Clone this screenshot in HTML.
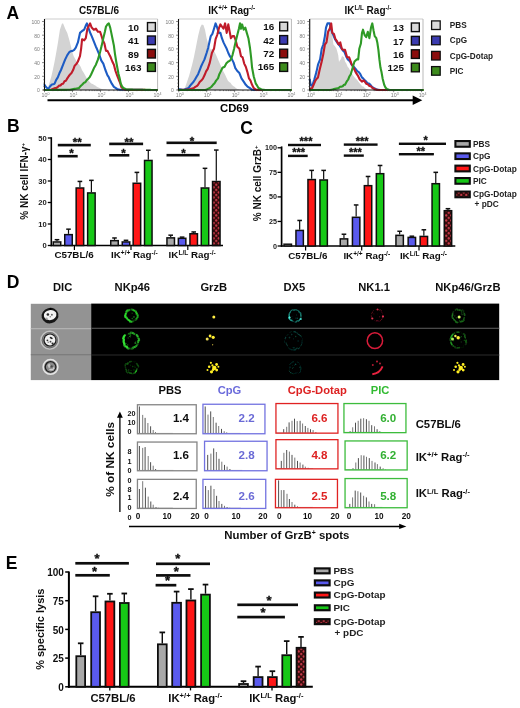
<!DOCTYPE html>
<html><head><meta charset="utf-8"><title>Figure</title>
<style>html,body{margin:0;padding:0;background:#fff;}body{width:520px;height:708px;overflow:hidden;}svg{display:block;}</style>
</head><body>
<svg width="520" height="708" viewBox="0 0 520 708">
<defs>
<pattern id="chk" width="5.0" height="5.1" patternUnits="userSpaceOnUse">
<rect width="5.0" height="5.1" fill="#340909"/>
<circle cx="1.25" cy="1.25" r="1.15" fill="#c63a4a"/>
<circle cx="3.75" cy="3.8" r="1.15" fill="#c63a4a"/>
</pattern>
<filter id="gb" x="0" y="0" width="520" height="708" filterUnits="userSpaceOnUse"><feGaussianBlur stdDeviation="0.4"/></filter>
<filter id="bl" x="-50%" y="-50%" width="200%" height="200%"><feGaussianBlur stdDeviation="0.45"/></filter>
<filter id="bl2" x="-50%" y="-50%" width="200%" height="200%"><feGaussianBlur stdDeviation="0.8"/></filter>
</defs>
<rect width="520" height="708" fill="#fff"/>
<g font-family='"Liberation Sans", sans-serif' filter="url(#gb)">
<text x="6.5" y="19.1" font-size="17.5" text-anchor="start" fill="#000" font-weight="bold" >A</text>
<line x1="44.5" y1="19.0" x2="157.6" y2="19.0" stroke="#cdcdcd" stroke-width="1" />
<line x1="157.6" y1="19.0" x2="157.6" y2="90.0" stroke="#b9b9b9" stroke-width="1" />
<polygon points="44.5,90.0 46.5,89.5 48.2,86.9 49.8,81.72 51.4,76.3 53.0,69.14 54.6,61.5 56.2,52.8 57.8,43.5 59.9,29.7 62.0,23.4 63.1,23.4 65.2,28.7 67.3,32.9 69.4,40.3 71.5,48.8 72.6,52.94 73.7,56.2 75.25,59.09 76.8,61.5 78.0,63.37 79.2,64.4 80.65,66.83 82.1,70.2 83.55,72.57 85.0,75.0 86.45,77.84 87.9,79.8 89.17,81.25 90.43,82.8 91.7,83.7 92.9,84.01 94.1,85.07 95.3,85.55 96.5,86.5 97.8,87.21 99.1,87.83 100.4,88.5 101.85,88.95 103.3,89.4 104.53,89.6 105.77,89.8 107,90" fill="#d3d3d3" stroke="none" stroke-width="0" />
<polyline points="44.5,84.8 46.0,87.0 47.1,88.0 48.2,89.0 50.0,86.5 51.4,84.8 53.0,84.35 54.6,83.7 56.2,79.87 57.8,77.4 59.4,73.3 61.0,70.0 63.1,64.7 65.2,59.4 67.3,55.1 69.4,52.0 71.0,51.14 72.6,50.9 74.2,49.88 75.8,47.7 77.9,42.4 80.0,32.9 82.1,31.0 84.2,29.7 85.8,25.5 86.9,23.4 87.9,26.5 89.5,30.8 90.6,33.82 91.7,36.1 93.8,41.4 95.9,46.7 96.9,48.8 99.1,54.1 101.2,60.4 103.3,63.6 105.4,70.0 107.5,75.3 108.6,76.92 109.7,79.5 111.8,83.7 113.9,86.9 115.5,87.95 117.1,89.0 118.55,89.4 120.0,89.8 121.12,89.81 122.24,89.81 123.36,89.82 124.48,89.82 125.61,89.83 126.73,89.84 127.85,89.84 128.97,89.85 130.09,89.85 131.21,89.86 132.33,89.87 133.45,89.87 134.58,89.88 135.7,89.88 136.82,89.89 137.94,89.9 139.06,89.9 140.18,89.91 141.3,89.92 142.42,89.92 143.55,89.93 144.67,89.93 145.79,89.94 146.91,89.95 148.03,89.95 149.15,89.96 150.27,89.96 151.39,89.97 152.52,89.98 153.64,89.98 154.76,89.99 155.88,89.99 157,90" fill="none" stroke="#1f5cc4" stroke-width="2.1" stroke-linejoin="round" stroke-linecap="round" />
<polyline points="44.5,90.0 45.68,90.0 46.86,90.0 48.04,90.0 49.22,90.0 50.4,90.0 51.63,89.48 52.87,88.97 54.1,88.45 55.33,87.93 56.57,87.83 57.8,86.9 59.12,85.59 60.45,85.46 61.77,83.98 63.1,83.7 64.5,81.24 65.9,80.69 67.3,78.4 68.7,76.23 70.1,74.47 71.5,73.1 73.1,70.08 74.7,65.7 76.3,64.12 77.9,61.5 80.0,56.2 81.1,48.8 82.1,39.2 84.2,40.3 85.8,38.2 87.4,28.7 89.0,25.5 90.1,23.4 91.7,27.6 93.8,29.7 95.9,28.7 98.0,31.8 100.1,31.8 101.2,35.0 102.8,40.3 104.4,43.5 106.0,50.9 107.5,50.9 109.1,54.1 110.7,57.3 112.3,61.5 113.9,64.7 115.5,71.0 117.1,75.3 118.7,79.5 120.0,82.5 121.3,86.9 123.4,89.0 124.7,89.4 126.0,89.8 127.11,89.81 128.21,89.81 129.32,89.82 130.43,89.83 131.54,89.84 132.64,89.84 133.75,89.85 134.86,89.86 135.96,89.86 137.07,89.87 138.18,89.88 139.29,89.89 140.39,89.89 141.5,89.9 142.61,89.91 143.71,89.91 144.82,89.92 145.93,89.93 147.04,89.94 148.14,89.94 149.25,89.95 150.36,89.96 151.46,89.96 152.57,89.97 153.68,89.98 154.79,89.99 155.89,89.99 157,90" fill="none" stroke="#c01a2a" stroke-width="2.1" stroke-linejoin="round" stroke-linecap="round" />
<polyline points="44.5,90.0 45.61,89.99 46.72,89.98 47.83,89.97 48.93,89.97 50.04,89.96 51.15,89.95 52.26,89.94 53.37,89.93 54.48,89.92 55.59,89.91 56.7,89.9 57.8,89.9 58.91,89.89 60.02,89.88 61.13,89.87 62.24,89.86 63.35,89.85 64.46,89.84 65.57,89.83 66.67,89.83 67.78,89.82 68.89,89.81 70.0,89.8 71.12,89.58 72.25,89.35 73.38,89.12 74.5,88.9 75.62,88.67 76.75,88.45 77.88,88.22 79.0,88.0 80.55,86.11 82.1,84.8 84.0,82.7 85.2,82.3 86.4,80.6 87.95,79.05 89.5,77.4 91.1,74.45 92.7,71.0 94.3,67.44 95.9,64.7 98.0,59.4 100.1,52.0 101.7,45.6 103.3,38.2 104.9,31.8 106.0,26.5 107.5,24.4 108.8,23.4 110.2,27.6 111.3,32.9 112.8,40.3 113.9,45.6 115.0,54.1 116.2,61.5 117.3,67.5 118.5,74.0 119.7,78.4 120.8,83.7 122.1,86.47 123.4,88.0 125.0,88.8 126.6,89.6 127.73,89.61 128.85,89.63 129.98,89.64 131.1,89.66 132.23,89.67 133.36,89.69 134.48,89.7 135.61,89.72 136.73,89.73 137.86,89.75 138.99,89.76 140.11,89.78 141.24,89.79 142.36,89.81 143.49,89.82 144.61,89.84 145.74,89.85 146.87,89.87 147.99,89.88 149.12,89.9 150.24,89.91 151.37,89.93 152.5,89.94 153.62,89.96 154.75,89.97 155.87,89.99 157,90" fill="none" stroke="#2e9a26" stroke-width="2.1" stroke-linejoin="round" stroke-linecap="round" />
<line x1="44.5" y1="19.0" x2="44.5" y2="90.5" stroke="#111" stroke-width="1.1" />
<line x1="44.0" y1="90.0" x2="157.6" y2="90.0" stroke="#111" stroke-width="1.1" />
<line x1="42.1" y1="90.0" x2="44.5" y2="90.0" stroke="#333" stroke-width="0.6" />
<line x1="43.3" y1="86.575" x2="44.5" y2="86.575" stroke="#333" stroke-width="0.6" />
<line x1="43.3" y1="83.15" x2="44.5" y2="83.15" stroke="#333" stroke-width="0.6" />
<line x1="43.3" y1="79.725" x2="44.5" y2="79.725" stroke="#333" stroke-width="0.6" />
<line x1="42.1" y1="76.3" x2="44.5" y2="76.3" stroke="#333" stroke-width="0.6" />
<line x1="43.3" y1="72.875" x2="44.5" y2="72.875" stroke="#333" stroke-width="0.6" />
<line x1="43.3" y1="69.45" x2="44.5" y2="69.45" stroke="#333" stroke-width="0.6" />
<line x1="43.3" y1="66.025" x2="44.5" y2="66.025" stroke="#333" stroke-width="0.6" />
<line x1="42.1" y1="62.6" x2="44.5" y2="62.6" stroke="#333" stroke-width="0.6" />
<line x1="43.3" y1="59.175" x2="44.5" y2="59.175" stroke="#333" stroke-width="0.6" />
<line x1="43.3" y1="55.75" x2="44.5" y2="55.75" stroke="#333" stroke-width="0.6" />
<line x1="43.3" y1="52.325" x2="44.5" y2="52.325" stroke="#333" stroke-width="0.6" />
<line x1="42.1" y1="48.9" x2="44.5" y2="48.9" stroke="#333" stroke-width="0.6" />
<line x1="43.3" y1="45.475" x2="44.5" y2="45.475" stroke="#333" stroke-width="0.6" />
<line x1="43.3" y1="42.05" x2="44.5" y2="42.05" stroke="#333" stroke-width="0.6" />
<line x1="43.3" y1="38.625" x2="44.5" y2="38.625" stroke="#333" stroke-width="0.6" />
<line x1="42.1" y1="35.2" x2="44.5" y2="35.2" stroke="#333" stroke-width="0.6" />
<line x1="43.3" y1="31.775" x2="44.5" y2="31.775" stroke="#333" stroke-width="0.6" />
<line x1="43.3" y1="28.35" x2="44.5" y2="28.35" stroke="#333" stroke-width="0.6" />
<line x1="43.3" y1="24.924999999999997" x2="44.5" y2="24.924999999999997" stroke="#333" stroke-width="0.6" />
<line x1="42.1" y1="21.5" x2="44.5" y2="21.5" stroke="#333" stroke-width="0.6" />
<text x="39.9" y="92.3" font-size="5.0" text-anchor="end" fill="#7a7a7a" font-weight="normal" >0</text>
<text x="39.9" y="78.6" font-size="5.0" text-anchor="end" fill="#7a7a7a" font-weight="normal" >20</text>
<text x="39.9" y="64.9" font-size="5.0" text-anchor="end" fill="#7a7a7a" font-weight="normal" >40</text>
<text x="39.9" y="51.199999999999996" font-size="5.0" text-anchor="end" fill="#7a7a7a" font-weight="normal" >60</text>
<text x="39.9" y="37.5" font-size="5.0" text-anchor="end" fill="#7a7a7a" font-weight="normal" >80</text>
<text x="39.9" y="23.8" font-size="5.0" text-anchor="end" fill="#7a7a7a" font-weight="normal" >100</text>
<line x1="44.5" y1="90.0" x2="44.5" y2="92.2" stroke="#333" stroke-width="0.6" />
<line x1="52.928839878591475" y1="90.0" x2="52.928839878591475" y2="91.1" stroke="#333" stroke-width="0.6" />
<line x1="57.859395132150546" y1="90.0" x2="57.859395132150546" y2="91.1" stroke="#333" stroke-width="0.6" />
<line x1="61.35767975718295" y1="90.0" x2="61.35767975718295" y2="91.1" stroke="#333" stroke-width="0.6" />
<line x1="64.07116012140852" y1="90.0" x2="64.07116012140852" y2="91.1" stroke="#333" stroke-width="0.6" />
<line x1="66.28823501074203" y1="90.0" x2="66.28823501074203" y2="91.1" stroke="#333" stroke-width="0.6" />
<line x1="68.1627451203992" y1="90.0" x2="68.1627451203992" y2="91.1" stroke="#333" stroke-width="0.6" />
<line x1="69.78651963577443" y1="90.0" x2="69.78651963577443" y2="91.1" stroke="#333" stroke-width="0.6" />
<line x1="71.21879026430109" y1="90.0" x2="71.21879026430109" y2="91.1" stroke="#333" stroke-width="0.6" />
<line x1="72.5" y1="90.0" x2="72.5" y2="92.2" stroke="#333" stroke-width="0.6" />
<line x1="80.92883987859148" y1="90.0" x2="80.92883987859148" y2="91.1" stroke="#333" stroke-width="0.6" />
<line x1="85.85939513215055" y1="90.0" x2="85.85939513215055" y2="91.1" stroke="#333" stroke-width="0.6" />
<line x1="89.35767975718295" y1="90.0" x2="89.35767975718295" y2="91.1" stroke="#333" stroke-width="0.6" />
<line x1="92.07116012140852" y1="90.0" x2="92.07116012140852" y2="91.1" stroke="#333" stroke-width="0.6" />
<line x1="94.28823501074203" y1="90.0" x2="94.28823501074203" y2="91.1" stroke="#333" stroke-width="0.6" />
<line x1="96.1627451203992" y1="90.0" x2="96.1627451203992" y2="91.1" stroke="#333" stroke-width="0.6" />
<line x1="97.78651963577443" y1="90.0" x2="97.78651963577443" y2="91.1" stroke="#333" stroke-width="0.6" />
<line x1="99.21879026430109" y1="90.0" x2="99.21879026430109" y2="91.1" stroke="#333" stroke-width="0.6" />
<line x1="100.5" y1="90.0" x2="100.5" y2="92.2" stroke="#333" stroke-width="0.6" />
<line x1="108.92883987859148" y1="90.0" x2="108.92883987859148" y2="91.1" stroke="#333" stroke-width="0.6" />
<line x1="113.85939513215055" y1="90.0" x2="113.85939513215055" y2="91.1" stroke="#333" stroke-width="0.6" />
<line x1="117.35767975718295" y1="90.0" x2="117.35767975718295" y2="91.1" stroke="#333" stroke-width="0.6" />
<line x1="120.07116012140852" y1="90.0" x2="120.07116012140852" y2="91.1" stroke="#333" stroke-width="0.6" />
<line x1="122.28823501074203" y1="90.0" x2="122.28823501074203" y2="91.1" stroke="#333" stroke-width="0.6" />
<line x1="124.1627451203992" y1="90.0" x2="124.1627451203992" y2="91.1" stroke="#333" stroke-width="0.6" />
<line x1="125.78651963577443" y1="90.0" x2="125.78651963577443" y2="91.1" stroke="#333" stroke-width="0.6" />
<line x1="127.21879026430109" y1="90.0" x2="127.21879026430109" y2="91.1" stroke="#333" stroke-width="0.6" />
<line x1="128.5" y1="90.0" x2="128.5" y2="92.2" stroke="#333" stroke-width="0.6" />
<line x1="136.92883987859148" y1="90.0" x2="136.92883987859148" y2="91.1" stroke="#333" stroke-width="0.6" />
<line x1="141.85939513215055" y1="90.0" x2="141.85939513215055" y2="91.1" stroke="#333" stroke-width="0.6" />
<line x1="145.35767975718295" y1="90.0" x2="145.35767975718295" y2="91.1" stroke="#333" stroke-width="0.6" />
<line x1="148.07116012140852" y1="90.0" x2="148.07116012140852" y2="91.1" stroke="#333" stroke-width="0.6" />
<line x1="150.28823501074203" y1="90.0" x2="150.28823501074203" y2="91.1" stroke="#333" stroke-width="0.6" />
<line x1="152.1627451203992" y1="90.0" x2="152.1627451203992" y2="91.1" stroke="#333" stroke-width="0.6" />
<line x1="153.78651963577443" y1="90.0" x2="153.78651963577443" y2="91.1" stroke="#333" stroke-width="0.6" />
<line x1="155.2187902643011" y1="90.0" x2="155.2187902643011" y2="91.1" stroke="#333" stroke-width="0.6" />
<line x1="156.5" y1="90.0" x2="156.5" y2="92.2" stroke="#333" stroke-width="0.6" />
<text x="45.5" y="96.6" font-size="5.3" text-anchor="middle" fill="#7a7a7a" font-weight="normal" >10<tspan font-size="3.6" dy="-1.8">0</tspan></text>
<text x="73.5" y="96.6" font-size="5.3" text-anchor="middle" fill="#7a7a7a" font-weight="normal" >10<tspan font-size="3.6" dy="-1.8">1</tspan></text>
<text x="101.5" y="96.6" font-size="5.3" text-anchor="middle" fill="#7a7a7a" font-weight="normal" >10<tspan font-size="3.6" dy="-1.8">2</tspan></text>
<text x="129.5" y="96.6" font-size="5.3" text-anchor="middle" fill="#7a7a7a" font-weight="normal" >10<tspan font-size="3.6" dy="-1.8">3</tspan></text>
<text x="157.5" y="96.6" font-size="5.3" text-anchor="middle" fill="#7a7a7a" font-weight="normal" >10<tspan font-size="3.6" dy="-1.8">4</tspan></text>
<text x="139.1" y="31.0" font-size="9.9" text-anchor="end" fill="#111" font-weight="bold" >10</text>
<rect x="147.5" y="22.599999999999998" width="7.9" height="8.6" fill="#d9d9d9" stroke="#111" stroke-width="1.4" />
<text x="139.1" y="44.4" font-size="9.9" text-anchor="end" fill="#111" font-weight="bold" >41</text>
<rect x="147.5" y="36.0" width="7.9" height="8.6" fill="#3b3bb0" stroke="#111" stroke-width="1.4" />
<text x="139.1" y="57.8" font-size="9.9" text-anchor="end" fill="#111" font-weight="bold" >89</text>
<rect x="147.5" y="49.400000000000006" width="7.9" height="8.6" fill="#8b0a0a" stroke="#111" stroke-width="1.4" />
<text x="141.6" y="70.8" font-size="9.9" text-anchor="end" fill="#111" font-weight="bold" >163</text>
<rect x="147.5" y="62.800000000000004" width="7.9" height="8.6" fill="#3d8b1e" stroke="#111" stroke-width="1.4" />
<line x1="178.5" y1="19.0" x2="291.4" y2="19.0" stroke="#cdcdcd" stroke-width="1" />
<line x1="291.4" y1="19.0" x2="291.4" y2="90.0" stroke="#b9b9b9" stroke-width="1" />
<polygon points="178.8,90.0 180.4,89.9 182.0,89.8 183.2,89.4 184.4,89.0 185.95,84.99 187.5,80.6 189.1,75.77 190.7,70.0 192.3,64.04 193.9,57.3 196.0,46.7 198.1,36.1 200.2,27.6 201.8,24.4 203.4,25.0 205.0,29.7 206.6,38.2 208.7,45.6 210.8,49.8 213.0,48.8 215.1,53.0 216.65,56.3 218.2,60.0 219.63,63.19 221.07,66.33 222.5,70.0 223.82,72.3 225.15,74.87 226.48,77.75 227.8,80.6 229.12,82.03 230.45,82.75 231.78,84.75 233.1,85.9 234.5,86.77 235.9,87.97 237.3,89.0 238.53,89.33 239.77,89.67 241,90" fill="#d3d3d3" stroke="none" stroke-width="0" />
<polyline points="178.8,89.2 179.93,89.4 181.05,89.6 182.18,89.8 183.3,90.0 184.62,89.5 185.95,89.0 187.28,88.5 188.6,88.0 190.2,85.58 191.8,83.7 193.4,82.05 195.0,79.5 196.55,76.82 198.1,74.2 200.2,68.9 201.3,65.99 202.4,63.6 204.5,59.4 206.6,53.0 208.2,47.7 209.8,40.3 210.8,36.1 212.4,33.9 214.0,28.7 215.6,23.4 217.2,27.6 218.8,32.9 220.4,32.9 221.9,38.2 223.5,42.4 225.1,45.6 226.7,48.8 228.3,53.0 229.9,56.2 232.0,59.4 233.6,62.6 235.2,67.8 237.3,71.0 239.4,73.1 241.5,78.4 243.7,81.6 245.8,84.8 247.9,86.9 250.0,88.2 252.1,89.8 253.55,89.9 255.0,90.0 256.12,90.0 257.25,90.0 258.38,90.0 259.5,90.0 260.62,90.0 261.75,90.0 262.88,90.0 264.0,90.0 265.12,90.0 266.25,90.0 267.38,90.0 268.5,90.0 269.62,90.0 270.75,90.0 271.88,90.0 273.0,90.0 274.12,90.0 275.25,90.0 276.38,90.0 277.5,90.0 278.62,90.0 279.75,90.0 280.88,90.0 282.0,90.0 283.12,90.0 284.25,90.0 285.38,90.0 286.5,90.0 287.62,90.0 288.75,90.0 289.88,90.0 291,90" fill="none" stroke="#1f5cc4" stroke-width="2.1" stroke-linejoin="round" stroke-linecap="round" />
<polyline points="178.8,90.0 180.03,89.95 181.25,89.9 182.47,89.85 183.7,89.8 184.93,89.75 186.15,89.7 187.38,89.65 188.6,89.6 189.93,89.2 191.25,88.8 192.57,88.4 193.9,88.0 195.3,86.91 196.7,86.15 198.1,84.8 199.7,82.08 201.3,80.6 202.9,78.62 204.5,75.3 206.1,71.43 207.7,68.9 209.8,62.6 211.9,53.0 214.0,48.8 215.6,39.2 217.2,35.0 218.8,28.7 220.4,24.4 221.9,26.5 223.5,28.7 225.1,23.4 226.7,32.9 228.3,24.4 229.9,32.9 230.9,38.2 232.5,36.1 234.1,36.1 235.7,40.3 237.3,46.7 239.4,48.8 241.0,56.2 242.6,57.3 244.2,63.6 245.8,66.8 247.4,72.1 249.0,78.4 250.5,80.6 252.1,84.8 253.7,88.0 255.8,89.6 258.0,90.0 259.14,90.0 260.28,90.0 261.41,90.0 262.55,90.0 263.69,90.0 264.83,90.0 265.97,90.0 267.1,90.0 268.24,90.0 269.38,90.0 270.52,90.0 271.66,90.0 272.79,90.0 273.93,90.0 275.07,90.0 276.21,90.0 277.34,90.0 278.48,90.0 279.62,90.0 280.76,90.0 281.9,90.0 283.03,90.0 284.17,90.0 285.31,90.0 286.45,90.0 287.59,90.0 288.72,90.0 289.86,90.0 291,90" fill="none" stroke="#c01a2a" stroke-width="2.1" stroke-linejoin="round" stroke-linecap="round" />
<polyline points="178.8,90.0 179.95,90.0 181.1,90.0 182.26,90.0 183.41,90.0 184.56,90.0 185.71,90.0 186.87,90.0 188.02,90.0 189.17,90.0 190.32,90.0 191.48,90.0 192.63,90.0 193.78,90.0 194.93,90.0 196.09,90.0 197.24,90.0 198.39,90.0 199.54,90.0 200.7,90.0 201.85,90.0 203.0,90.0 204.25,90.0 205.5,90.0 206.93,89.33 208.37,88.67 209.8,88.0 211.4,86.75 213.0,84.8 214.55,83.18 216.1,80.6 218.0,78.4 219.2,74.58 220.4,72.1 222.5,67.8 224.6,66.8 226.2,63.6 228.3,61.5 229.65,60.85 231.0,59.4 232.5,55.1 234.1,48.8 235.7,41.4 237.3,35.0 238.9,28.7 240.0,23.4 241.0,28.7 242.1,24.4 243.7,29.7 245.3,27.6 246.8,32.9 248.4,38.2 250.0,48.0 251.1,57.3 252.1,67.8 253.7,76.3 255.8,83.7 257.15,85.66 258.5,88.0 260.1,88.8 261.7,89.6 262.8,89.73 263.9,89.87 265.0,90.0 266.13,90.0 267.26,90.0 268.39,90.0 269.52,90.0 270.65,90.0 271.78,90.0 272.91,90.0 274.04,90.0 275.17,90.0 276.3,90.0 277.43,90.0 278.57,90.0 279.7,90.0 280.83,90.0 281.96,90.0 283.09,90.0 284.22,90.0 285.35,90.0 286.48,90.0 287.61,90.0 288.74,90.0 289.87,90.0 291,90" fill="none" stroke="#2e9a26" stroke-width="2.1" stroke-linejoin="round" stroke-linecap="round" />
<line x1="178.5" y1="19.0" x2="178.5" y2="90.5" stroke="#111" stroke-width="1.1" />
<line x1="178.0" y1="90.0" x2="291.4" y2="90.0" stroke="#111" stroke-width="1.1" />
<line x1="176.1" y1="90.0" x2="178.5" y2="90.0" stroke="#333" stroke-width="0.6" />
<line x1="177.3" y1="86.575" x2="178.5" y2="86.575" stroke="#333" stroke-width="0.6" />
<line x1="177.3" y1="83.15" x2="178.5" y2="83.15" stroke="#333" stroke-width="0.6" />
<line x1="177.3" y1="79.725" x2="178.5" y2="79.725" stroke="#333" stroke-width="0.6" />
<line x1="176.1" y1="76.3" x2="178.5" y2="76.3" stroke="#333" stroke-width="0.6" />
<line x1="177.3" y1="72.875" x2="178.5" y2="72.875" stroke="#333" stroke-width="0.6" />
<line x1="177.3" y1="69.45" x2="178.5" y2="69.45" stroke="#333" stroke-width="0.6" />
<line x1="177.3" y1="66.025" x2="178.5" y2="66.025" stroke="#333" stroke-width="0.6" />
<line x1="176.1" y1="62.6" x2="178.5" y2="62.6" stroke="#333" stroke-width="0.6" />
<line x1="177.3" y1="59.175" x2="178.5" y2="59.175" stroke="#333" stroke-width="0.6" />
<line x1="177.3" y1="55.75" x2="178.5" y2="55.75" stroke="#333" stroke-width="0.6" />
<line x1="177.3" y1="52.325" x2="178.5" y2="52.325" stroke="#333" stroke-width="0.6" />
<line x1="176.1" y1="48.9" x2="178.5" y2="48.9" stroke="#333" stroke-width="0.6" />
<line x1="177.3" y1="45.475" x2="178.5" y2="45.475" stroke="#333" stroke-width="0.6" />
<line x1="177.3" y1="42.05" x2="178.5" y2="42.05" stroke="#333" stroke-width="0.6" />
<line x1="177.3" y1="38.625" x2="178.5" y2="38.625" stroke="#333" stroke-width="0.6" />
<line x1="176.1" y1="35.2" x2="178.5" y2="35.2" stroke="#333" stroke-width="0.6" />
<line x1="177.3" y1="31.775" x2="178.5" y2="31.775" stroke="#333" stroke-width="0.6" />
<line x1="177.3" y1="28.35" x2="178.5" y2="28.35" stroke="#333" stroke-width="0.6" />
<line x1="177.3" y1="24.924999999999997" x2="178.5" y2="24.924999999999997" stroke="#333" stroke-width="0.6" />
<line x1="176.1" y1="21.5" x2="178.5" y2="21.5" stroke="#333" stroke-width="0.6" />
<text x="173.9" y="92.3" font-size="5.0" text-anchor="end" fill="#7a7a7a" font-weight="normal" >0</text>
<text x="173.9" y="78.6" font-size="5.0" text-anchor="end" fill="#7a7a7a" font-weight="normal" >20</text>
<text x="173.9" y="64.9" font-size="5.0" text-anchor="end" fill="#7a7a7a" font-weight="normal" >40</text>
<text x="173.9" y="51.199999999999996" font-size="5.0" text-anchor="end" fill="#7a7a7a" font-weight="normal" >60</text>
<text x="173.9" y="37.5" font-size="5.0" text-anchor="end" fill="#7a7a7a" font-weight="normal" >80</text>
<text x="173.9" y="23.8" font-size="5.0" text-anchor="end" fill="#7a7a7a" font-weight="normal" >100</text>
<line x1="178.8" y1="90.0" x2="178.8" y2="92.2" stroke="#333" stroke-width="0.6" />
<line x1="187.1987368790251" y1="90.0" x2="187.1987368790251" y2="91.1" stroke="#333" stroke-width="0.6" />
<line x1="192.1116830066786" y1="90.0" x2="192.1116830066786" y2="91.1" stroke="#333" stroke-width="0.6" />
<line x1="195.59747375805017" y1="90.0" x2="195.59747375805017" y2="91.1" stroke="#333" stroke-width="0.6" />
<line x1="198.30126312097494" y1="90.0" x2="198.30126312097494" y2="91.1" stroke="#333" stroke-width="0.6" />
<line x1="200.51041988570367" y1="90.0" x2="200.51041988570367" y2="91.1" stroke="#333" stroke-width="0.6" />
<line x1="202.37823531639776" y1="90.0" x2="202.37823531639776" y2="91.1" stroke="#333" stroke-width="0.6" />
<line x1="203.99621063707522" y1="90.0" x2="203.99621063707522" y2="91.1" stroke="#333" stroke-width="0.6" />
<line x1="205.42336601335717" y1="90.0" x2="205.42336601335717" y2="91.1" stroke="#333" stroke-width="0.6" />
<line x1="206.70000000000002" y1="90.0" x2="206.70000000000002" y2="92.2" stroke="#333" stroke-width="0.6" />
<line x1="215.0987368790251" y1="90.0" x2="215.0987368790251" y2="91.1" stroke="#333" stroke-width="0.6" />
<line x1="220.0116830066786" y1="90.0" x2="220.0116830066786" y2="91.1" stroke="#333" stroke-width="0.6" />
<line x1="223.49747375805015" y1="90.0" x2="223.49747375805015" y2="91.1" stroke="#333" stroke-width="0.6" />
<line x1="226.20126312097494" y1="90.0" x2="226.20126312097494" y2="91.1" stroke="#333" stroke-width="0.6" />
<line x1="228.41041988570367" y1="90.0" x2="228.41041988570367" y2="91.1" stroke="#333" stroke-width="0.6" />
<line x1="230.27823531639777" y1="90.0" x2="230.27823531639777" y2="91.1" stroke="#333" stroke-width="0.6" />
<line x1="231.89621063707523" y1="90.0" x2="231.89621063707523" y2="91.1" stroke="#333" stroke-width="0.6" />
<line x1="233.32336601335717" y1="90.0" x2="233.32336601335717" y2="91.1" stroke="#333" stroke-width="0.6" />
<line x1="234.60000000000002" y1="90.0" x2="234.60000000000002" y2="92.2" stroke="#333" stroke-width="0.6" />
<line x1="242.9987368790251" y1="90.0" x2="242.9987368790251" y2="91.1" stroke="#333" stroke-width="0.6" />
<line x1="247.9116830066786" y1="90.0" x2="247.9116830066786" y2="91.1" stroke="#333" stroke-width="0.6" />
<line x1="251.39747375805018" y1="90.0" x2="251.39747375805018" y2="91.1" stroke="#333" stroke-width="0.6" />
<line x1="254.10126312097492" y1="90.0" x2="254.10126312097492" y2="91.1" stroke="#333" stroke-width="0.6" />
<line x1="256.31041988570365" y1="90.0" x2="256.31041988570365" y2="91.1" stroke="#333" stroke-width="0.6" />
<line x1="258.1782353163978" y1="90.0" x2="258.1782353163978" y2="91.1" stroke="#333" stroke-width="0.6" />
<line x1="259.7962106370752" y1="90.0" x2="259.7962106370752" y2="91.1" stroke="#333" stroke-width="0.6" />
<line x1="261.2233660133572" y1="90.0" x2="261.2233660133572" y2="91.1" stroke="#333" stroke-width="0.6" />
<line x1="262.5" y1="90.0" x2="262.5" y2="92.2" stroke="#333" stroke-width="0.6" />
<line x1="270.8987368790251" y1="90.0" x2="270.8987368790251" y2="91.1" stroke="#333" stroke-width="0.6" />
<line x1="275.8116830066786" y1="90.0" x2="275.8116830066786" y2="91.1" stroke="#333" stroke-width="0.6" />
<line x1="279.29747375805016" y1="90.0" x2="279.29747375805016" y2="91.1" stroke="#333" stroke-width="0.6" />
<line x1="282.00126312097495" y1="90.0" x2="282.00126312097495" y2="91.1" stroke="#333" stroke-width="0.6" />
<line x1="284.2104198857037" y1="90.0" x2="284.2104198857037" y2="91.1" stroke="#333" stroke-width="0.6" />
<line x1="286.0782353163978" y1="90.0" x2="286.0782353163978" y2="91.1" stroke="#333" stroke-width="0.6" />
<line x1="287.69621063707524" y1="90.0" x2="287.69621063707524" y2="91.1" stroke="#333" stroke-width="0.6" />
<line x1="289.12336601335716" y1="90.0" x2="289.12336601335716" y2="91.1" stroke="#333" stroke-width="0.6" />
<line x1="290.4" y1="90.0" x2="290.4" y2="92.2" stroke="#333" stroke-width="0.6" />
<text x="179.8" y="96.6" font-size="5.3" text-anchor="middle" fill="#7a7a7a" font-weight="normal" >10<tspan font-size="3.6" dy="-1.8">0</tspan></text>
<text x="207.70000000000002" y="96.6" font-size="5.3" text-anchor="middle" fill="#7a7a7a" font-weight="normal" >10<tspan font-size="3.6" dy="-1.8">1</tspan></text>
<text x="235.60000000000002" y="96.6" font-size="5.3" text-anchor="middle" fill="#7a7a7a" font-weight="normal" >10<tspan font-size="3.6" dy="-1.8">2</tspan></text>
<text x="263.5" y="96.6" font-size="5.3" text-anchor="middle" fill="#7a7a7a" font-weight="normal" >10<tspan font-size="3.6" dy="-1.8">3</tspan></text>
<text x="291.4" y="96.6" font-size="5.3" text-anchor="middle" fill="#7a7a7a" font-weight="normal" >10<tspan font-size="3.6" dy="-1.8">4</tspan></text>
<text x="274.3" y="30.3" font-size="9.9" text-anchor="end" fill="#111" font-weight="bold" >16</text>
<rect x="279.7" y="22.2" width="7.9" height="8.6" fill="#d9d9d9" stroke="#111" stroke-width="1.4" />
<text x="274.3" y="43.6" font-size="9.9" text-anchor="end" fill="#111" font-weight="bold" >42</text>
<rect x="279.7" y="35.6" width="7.9" height="8.6" fill="#3b3bb0" stroke="#111" stroke-width="1.4" />
<text x="274.3" y="57.0" font-size="9.9" text-anchor="end" fill="#111" font-weight="bold" >72</text>
<rect x="279.7" y="49.2" width="7.9" height="8.6" fill="#8b0a0a" stroke="#111" stroke-width="1.4" />
<text x="274.3" y="70.0" font-size="9.9" text-anchor="end" fill="#111" font-weight="bold" >165</text>
<rect x="279.7" y="62.800000000000004" width="7.9" height="8.6" fill="#3d8b1e" stroke="#111" stroke-width="1.4" />
<line x1="309.7" y1="19.0" x2="423.0" y2="19.0" stroke="#cdcdcd" stroke-width="1" />
<line x1="423.0" y1="19.0" x2="423.0" y2="90.0" stroke="#b9b9b9" stroke-width="1" />
<polygon points="310.0,90.0 311.1,89.0 312.3,86.58 313.5,84.0 315.4,79.0 316.7,74.51 318.0,71.0 319.6,65.0 321.7,55.0 323.3,47.0 324.9,39.0 326.5,33.0 328.1,29.0 330.2,27.6 331.8,31.0 333.4,44.5 334.95,46.2 336.5,48.8 338.2,55.0 339.0,62.0 340.0,60.0 340.8,59.4 342.0,56.0 344.0,57.3 345.0,61.5 346.32,63.56 347.65,66.71 348.98,68.32 350.3,71.0 351.62,73.11 352.95,75.13 354.28,76.99 355.6,78.4 356.93,79.84 358.25,81.45 359.57,83.22 360.9,84.8 362.22,86.13 363.55,86.51 364.88,87.95 366.2,89.0 367.6,89.5 369,90" fill="#d3d3d3" stroke="none" stroke-width="0" />
<polyline points="309.8,79.5 310.6,84.8 312.2,85.9 314.3,79.5 316.4,72.1 318.0,64.7 320.1,59.4 321.7,48.8 323.3,44.5 324.9,36.1 326.0,27.6 327.5,23.4 329.7,23.4 331.2,29.7 332.8,33.9 335.0,39.2 337.1,42.4 338.4,44.35 339.7,45.6 341.8,48.8 343.15,50.82 344.5,52.0 346.6,57.3 347.8,59.35 349.0,60.4 350.25,61.8 351.5,64.5 353.5,66.5 355.6,68.9 357.2,71.12 358.8,72.1 360.35,74.18 361.9,77.4 363.33,78.58 364.77,80.36 366.2,81.6 367.6,83.25 369.0,83.51 370.4,84.8 372.0,86.99 373.6,88.0 375.2,88.8 376.8,89.6 378.4,89.8 380.0,90.0 381.1,90.0 382.21,90.0 383.31,90.0 384.41,90.0 385.51,90.0 386.62,90.0 387.72,90.0 388.82,90.0 389.92,90.0 391.03,90.0 392.13,90.0 393.23,90.0 394.33,90.0 395.44,90.0 396.54,90.0 397.64,90.0 398.74,90.0 399.85,90.0 400.95,90.0 402.05,90.0 403.15,90.0 404.26,90.0 405.36,90.0 406.46,90.0 407.56,90.0 408.67,90.0 409.77,90.0 410.87,90.0 411.97,90.0 413.08,90.0 414.18,90.0 415.28,90.0 416.38,90.0 417.49,90.0 418.59,90.0 419.69,90.0 420.79,90.0 421.9,90.0 423,90" fill="none" stroke="#1f5cc4" stroke-width="2.1" stroke-linejoin="round" stroke-linecap="round" />
<polyline points="310.1,89.0 312.2,88.0 313.8,84.36 315.4,80.6 316.7,78.74 318.0,77.4 319.6,70.0 321.7,61.5 323.3,54.1 324.9,44.5 326.5,42.4 328.1,31.8 329.7,28.7 331.2,23.4 332.3,32.9 333.9,33.9 335.5,39.2 337.1,41.4 338.7,44.5 340.3,42.4 341.8,48.8 343.4,49.8 345.0,49.8 347.1,57.3 349.2,57.3 351.4,63.6 353.5,67.8 355.6,72.1 357.7,75.3 359.8,79.5 361.9,81.6 363.0,80.84 364.1,80.6 366.2,83.7 367.8,84.35 369.4,85.9 370.95,86.36 372.5,88.0 374.1,88.8 375.7,89.6 376.85,89.8 378.0,90.0 379.12,90.0 380.25,90.0 381.38,90.0 382.5,90.0 383.62,90.0 384.75,90.0 385.88,90.0 387.0,90.0 388.12,90.0 389.25,90.0 390.38,90.0 391.5,90.0 392.62,90.0 393.75,90.0 394.88,90.0 396.0,90.0 397.12,90.0 398.25,90.0 399.38,90.0 400.5,90.0 401.62,90.0 402.75,90.0 403.88,90.0 405.0,90.0 406.12,90.0 407.25,90.0 408.38,90.0 409.5,90.0 410.62,90.0 411.75,90.0 412.88,90.0 414.0,90.0 415.12,90.0 416.25,90.0 417.38,90.0 418.5,90.0 419.62,90.0 420.75,90.0 421.88,90.0 423,90" fill="none" stroke="#c01a2a" stroke-width="2.1" stroke-linejoin="round" stroke-linecap="round" />
<polyline points="310.0,90.0 311.12,90.0 312.24,90.0 313.37,90.0 314.49,90.0 315.61,90.0 316.73,90.0 317.86,90.0 318.98,90.0 320.1,90.0 321.22,90.0 322.34,90.0 323.47,90.0 324.59,90.0 325.71,90.0 326.83,90.0 327.96,90.0 329.08,90.0 330.2,90.0 331.41,89.71 332.63,89.43 333.84,89.14 335.06,88.86 336.27,88.57 337.49,88.29 338.7,88.0 340.02,86.71 341.35,86.66 342.68,86.3 344.0,84.8 345.0,84.8 346.6,81.68 348.2,79.5 349.5,76.22 350.8,74.2 352.9,66.8 354.5,61.5 356.7,59.4 358.2,59.4 359.3,48.8 360.9,43.5 362.0,32.9 363.0,29.7 364.6,35.0 366.2,37.1 367.8,31.8 369.4,38.2 371.0,27.6 372.3,23.4 373.6,30.8 374.7,36.1 376.3,38.2 377.3,42.4 378.4,49.8 379.4,59.4 380.5,67.8 381.5,72.0 382.6,78.4 384.2,84.8 385.5,87.58 386.8,89.0 388.15,89.5 389.5,90.0 390.62,90.0 391.73,90.0 392.85,90.0 393.97,90.0 395.08,90.0 396.2,90.0 397.32,90.0 398.43,90.0 399.55,90.0 400.67,90.0 401.78,90.0 402.9,90.0 404.02,90.0 405.13,90.0 406.25,90.0 407.37,90.0 408.48,90.0 409.6,90.0 410.72,90.0 411.83,90.0 412.95,90.0 414.07,90.0 415.18,90.0 416.3,90.0 417.42,90.0 418.53,90.0 419.65,90.0 420.77,90.0 421.88,90.0 423,90" fill="none" stroke="#2e9a26" stroke-width="2.1" stroke-linejoin="round" stroke-linecap="round" />
<line x1="309.7" y1="19.0" x2="309.7" y2="90.5" stroke="#111" stroke-width="1.1" />
<line x1="309.2" y1="90.0" x2="423.0" y2="90.0" stroke="#111" stroke-width="1.1" />
<line x1="307.3" y1="90.0" x2="309.7" y2="90.0" stroke="#333" stroke-width="0.6" />
<line x1="308.5" y1="86.575" x2="309.7" y2="86.575" stroke="#333" stroke-width="0.6" />
<line x1="308.5" y1="83.15" x2="309.7" y2="83.15" stroke="#333" stroke-width="0.6" />
<line x1="308.5" y1="79.725" x2="309.7" y2="79.725" stroke="#333" stroke-width="0.6" />
<line x1="307.3" y1="76.3" x2="309.7" y2="76.3" stroke="#333" stroke-width="0.6" />
<line x1="308.5" y1="72.875" x2="309.7" y2="72.875" stroke="#333" stroke-width="0.6" />
<line x1="308.5" y1="69.45" x2="309.7" y2="69.45" stroke="#333" stroke-width="0.6" />
<line x1="308.5" y1="66.025" x2="309.7" y2="66.025" stroke="#333" stroke-width="0.6" />
<line x1="307.3" y1="62.6" x2="309.7" y2="62.6" stroke="#333" stroke-width="0.6" />
<line x1="308.5" y1="59.175" x2="309.7" y2="59.175" stroke="#333" stroke-width="0.6" />
<line x1="308.5" y1="55.75" x2="309.7" y2="55.75" stroke="#333" stroke-width="0.6" />
<line x1="308.5" y1="52.325" x2="309.7" y2="52.325" stroke="#333" stroke-width="0.6" />
<line x1="307.3" y1="48.9" x2="309.7" y2="48.9" stroke="#333" stroke-width="0.6" />
<line x1="308.5" y1="45.475" x2="309.7" y2="45.475" stroke="#333" stroke-width="0.6" />
<line x1="308.5" y1="42.05" x2="309.7" y2="42.05" stroke="#333" stroke-width="0.6" />
<line x1="308.5" y1="38.625" x2="309.7" y2="38.625" stroke="#333" stroke-width="0.6" />
<line x1="307.3" y1="35.2" x2="309.7" y2="35.2" stroke="#333" stroke-width="0.6" />
<line x1="308.5" y1="31.775" x2="309.7" y2="31.775" stroke="#333" stroke-width="0.6" />
<line x1="308.5" y1="28.35" x2="309.7" y2="28.35" stroke="#333" stroke-width="0.6" />
<line x1="308.5" y1="24.924999999999997" x2="309.7" y2="24.924999999999997" stroke="#333" stroke-width="0.6" />
<line x1="307.3" y1="21.5" x2="309.7" y2="21.5" stroke="#333" stroke-width="0.6" />
<text x="305.09999999999997" y="92.3" font-size="5.0" text-anchor="end" fill="#7a7a7a" font-weight="normal" >0</text>
<text x="305.09999999999997" y="78.6" font-size="5.0" text-anchor="end" fill="#7a7a7a" font-weight="normal" >20</text>
<text x="305.09999999999997" y="64.9" font-size="5.0" text-anchor="end" fill="#7a7a7a" font-weight="normal" >40</text>
<text x="305.09999999999997" y="51.199999999999996" font-size="5.0" text-anchor="end" fill="#7a7a7a" font-weight="normal" >60</text>
<text x="305.09999999999997" y="37.5" font-size="5.0" text-anchor="end" fill="#7a7a7a" font-weight="normal" >80</text>
<text x="305.09999999999997" y="23.8" font-size="5.0" text-anchor="end" fill="#7a7a7a" font-weight="normal" >100</text>
<line x1="310.0" y1="90.0" x2="310.0" y2="92.2" stroke="#333" stroke-width="0.6" />
<line x1="318.3987368790251" y1="90.0" x2="318.3987368790251" y2="91.1" stroke="#333" stroke-width="0.6" />
<line x1="323.3116830066786" y1="90.0" x2="323.3116830066786" y2="91.1" stroke="#333" stroke-width="0.6" />
<line x1="326.79747375805016" y1="90.0" x2="326.79747375805016" y2="91.1" stroke="#333" stroke-width="0.6" />
<line x1="329.50126312097495" y1="90.0" x2="329.50126312097495" y2="91.1" stroke="#333" stroke-width="0.6" />
<line x1="331.7104198857037" y1="90.0" x2="331.7104198857037" y2="91.1" stroke="#333" stroke-width="0.6" />
<line x1="333.57823531639775" y1="90.0" x2="333.57823531639775" y2="91.1" stroke="#333" stroke-width="0.6" />
<line x1="335.19621063707524" y1="90.0" x2="335.19621063707524" y2="91.1" stroke="#333" stroke-width="0.6" />
<line x1="336.62336601335716" y1="90.0" x2="336.62336601335716" y2="91.1" stroke="#333" stroke-width="0.6" />
<line x1="337.9" y1="90.0" x2="337.9" y2="92.2" stroke="#333" stroke-width="0.6" />
<line x1="346.29873687902506" y1="90.0" x2="346.29873687902506" y2="91.1" stroke="#333" stroke-width="0.6" />
<line x1="351.2116830066786" y1="90.0" x2="351.2116830066786" y2="91.1" stroke="#333" stroke-width="0.6" />
<line x1="354.69747375805014" y1="90.0" x2="354.69747375805014" y2="91.1" stroke="#333" stroke-width="0.6" />
<line x1="357.40126312097493" y1="90.0" x2="357.40126312097493" y2="91.1" stroke="#333" stroke-width="0.6" />
<line x1="359.61041988570366" y1="90.0" x2="359.61041988570366" y2="91.1" stroke="#333" stroke-width="0.6" />
<line x1="361.4782353163978" y1="90.0" x2="361.4782353163978" y2="91.1" stroke="#333" stroke-width="0.6" />
<line x1="363.0962106370752" y1="90.0" x2="363.0962106370752" y2="91.1" stroke="#333" stroke-width="0.6" />
<line x1="364.52336601335713" y1="90.0" x2="364.52336601335713" y2="91.1" stroke="#333" stroke-width="0.6" />
<line x1="365.8" y1="90.0" x2="365.8" y2="92.2" stroke="#333" stroke-width="0.6" />
<line x1="374.1987368790251" y1="90.0" x2="374.1987368790251" y2="91.1" stroke="#333" stroke-width="0.6" />
<line x1="379.1116830066786" y1="90.0" x2="379.1116830066786" y2="91.1" stroke="#333" stroke-width="0.6" />
<line x1="382.59747375805017" y1="90.0" x2="382.59747375805017" y2="91.1" stroke="#333" stroke-width="0.6" />
<line x1="385.3012631209749" y1="90.0" x2="385.3012631209749" y2="91.1" stroke="#333" stroke-width="0.6" />
<line x1="387.51041988570364" y1="90.0" x2="387.51041988570364" y2="91.1" stroke="#333" stroke-width="0.6" />
<line x1="389.37823531639776" y1="90.0" x2="389.37823531639776" y2="91.1" stroke="#333" stroke-width="0.6" />
<line x1="390.99621063707525" y1="90.0" x2="390.99621063707525" y2="91.1" stroke="#333" stroke-width="0.6" />
<line x1="392.42336601335717" y1="90.0" x2="392.42336601335717" y2="91.1" stroke="#333" stroke-width="0.6" />
<line x1="393.7" y1="90.0" x2="393.7" y2="92.2" stroke="#333" stroke-width="0.6" />
<line x1="402.09873687902507" y1="90.0" x2="402.09873687902507" y2="91.1" stroke="#333" stroke-width="0.6" />
<line x1="407.0116830066786" y1="90.0" x2="407.0116830066786" y2="91.1" stroke="#333" stroke-width="0.6" />
<line x1="410.49747375805015" y1="90.0" x2="410.49747375805015" y2="91.1" stroke="#333" stroke-width="0.6" />
<line x1="413.2012631209749" y1="90.0" x2="413.2012631209749" y2="91.1" stroke="#333" stroke-width="0.6" />
<line x1="415.4104198857037" y1="90.0" x2="415.4104198857037" y2="91.1" stroke="#333" stroke-width="0.6" />
<line x1="417.27823531639774" y1="90.0" x2="417.27823531639774" y2="91.1" stroke="#333" stroke-width="0.6" />
<line x1="418.8962106370752" y1="90.0" x2="418.8962106370752" y2="91.1" stroke="#333" stroke-width="0.6" />
<line x1="420.32336601335714" y1="90.0" x2="420.32336601335714" y2="91.1" stroke="#333" stroke-width="0.6" />
<line x1="421.6" y1="90.0" x2="421.6" y2="92.2" stroke="#333" stroke-width="0.6" />
<text x="311.0" y="96.6" font-size="5.3" text-anchor="middle" fill="#7a7a7a" font-weight="normal" >10<tspan font-size="3.6" dy="-1.8">0</tspan></text>
<text x="338.9" y="96.6" font-size="5.3" text-anchor="middle" fill="#7a7a7a" font-weight="normal" >10<tspan font-size="3.6" dy="-1.8">1</tspan></text>
<text x="366.8" y="96.6" font-size="5.3" text-anchor="middle" fill="#7a7a7a" font-weight="normal" >10<tspan font-size="3.6" dy="-1.8">2</tspan></text>
<text x="394.7" y="96.6" font-size="5.3" text-anchor="middle" fill="#7a7a7a" font-weight="normal" >10<tspan font-size="3.6" dy="-1.8">3</tspan></text>
<text x="422.6" y="96.6" font-size="5.3" text-anchor="middle" fill="#7a7a7a" font-weight="normal" >10<tspan font-size="3.6" dy="-1.8">4</tspan></text>
<text x="403.9" y="31.3" font-size="9.9" text-anchor="end" fill="#111" font-weight="bold" >13</text>
<rect x="411.4" y="23.0" width="7.9" height="8.6" fill="#d9d9d9" stroke="#111" stroke-width="1.4" />
<text x="403.9" y="44.7" font-size="9.9" text-anchor="end" fill="#111" font-weight="bold" >17</text>
<rect x="411.4" y="36.400000000000006" width="7.9" height="8.6" fill="#3b3bb0" stroke="#111" stroke-width="1.4" />
<text x="403.9" y="57.8" font-size="9.9" text-anchor="end" fill="#111" font-weight="bold" >16</text>
<rect x="411.4" y="49.800000000000004" width="7.9" height="8.6" fill="#8b0a0a" stroke="#111" stroke-width="1.4" />
<text x="403.9" y="70.8" font-size="9.9" text-anchor="end" fill="#111" font-weight="bold" >125</text>
<rect x="411.4" y="63.2" width="7.9" height="8.6" fill="#3d8b1e" stroke="#111" stroke-width="1.4" />
<text x="99.0" y="14.3" font-size="10" text-anchor="middle" fill="#111" font-weight="bold" >C57BL/6</text>
<text x="208.3" y="13.7" font-size="10" text-anchor="start" fill="#111" font-weight="bold" >IK<tspan font-size="6.3" dy="-3.6">+/+</tspan><tspan dy="3.6"> Rag</tspan><tspan font-size="6.3" dy="-3.6">-/-</tspan></text>
<text x="344.4" y="13.7" font-size="10" text-anchor="start" fill="#111" font-weight="bold" >IK<tspan font-size="6.3" dy="-3.6">L/L</tspan><tspan dy="3.6"> Rag</tspan><tspan font-size="6.3" dy="-3.6">-/-</tspan></text>
<line x1="47.5" y1="100.2" x2="413.5" y2="100.2" stroke="#000" stroke-width="2" />
<polygon points="412.7,95.4 422.3,100.2 412.7,104.9" fill="#000"/>
<text x="220.0" y="112.0" font-size="11.3" text-anchor="start" fill="#000" font-weight="bold" >CD69</text>
<rect x="431.6" y="20.900000000000002" width="8.6" height="8.6" fill="#d9d9d9" stroke="#111" stroke-width="1.3" />
<text x="449.8" y="28.0" font-size="8.2" text-anchor="start" fill="#222" font-weight="bold" >PBS</text>
<rect x="431.6" y="36.1" width="8.6" height="8.6" fill="#3b3bb0" stroke="#111" stroke-width="1.3" />
<text x="449.8" y="43.2" font-size="8.2" text-anchor="start" fill="#222" font-weight="bold" >CpG</text>
<rect x="431.6" y="51.4" width="8.6" height="8.6" fill="#8b0a0a" stroke="#111" stroke-width="1.3" />
<text x="449.8" y="58.5" font-size="8.2" text-anchor="start" fill="#222" font-weight="bold" >CpG-Dotap</text>
<rect x="431.6" y="66.6" width="8.6" height="8.6" fill="#3d8b1e" stroke="#111" stroke-width="1.3" />
<text x="449.8" y="73.7" font-size="8.2" text-anchor="start" fill="#222" font-weight="bold" >PIC</text>
<text x="7.0" y="131.7" font-size="17.5" text-anchor="start" fill="#000" font-weight="bold" >B</text>
<line x1="51.3" y1="137.2" x2="51.3" y2="246.3" stroke="#000" stroke-width="1.6" />
<line x1="47.8" y1="245.5" x2="51.3" y2="245.5" stroke="#000" stroke-width="1.3" />
<text x="46.8" y="248.2" font-size="7.6" text-anchor="end" fill="#222" font-weight="bold" >0</text>
<line x1="47.8" y1="224.0" x2="51.3" y2="224.0" stroke="#000" stroke-width="1.3" />
<text x="46.8" y="226.7" font-size="7.6" text-anchor="end" fill="#222" font-weight="bold" >10</text>
<line x1="47.8" y1="202.5" x2="51.3" y2="202.5" stroke="#000" stroke-width="1.3" />
<text x="46.8" y="205.2" font-size="7.6" text-anchor="end" fill="#222" font-weight="bold" >20</text>
<line x1="47.8" y1="181.0" x2="51.3" y2="181.0" stroke="#000" stroke-width="1.3" />
<text x="46.8" y="183.7" font-size="7.6" text-anchor="end" fill="#222" font-weight="bold" >30</text>
<line x1="47.8" y1="159.5" x2="51.3" y2="159.5" stroke="#000" stroke-width="1.3" />
<text x="46.8" y="162.2" font-size="7.6" text-anchor="end" fill="#222" font-weight="bold" >40</text>
<line x1="47.8" y1="138.0" x2="51.3" y2="138.0" stroke="#000" stroke-width="1.3" />
<text x="46.8" y="140.7" font-size="7.6" text-anchor="end" fill="#222" font-weight="bold" >50</text>
<line x1="50.5" y1="245.5" x2="223.0" y2="245.5" stroke="#000" stroke-width="1.6" />
<line x1="74.4" y1="245.5" x2="74.4" y2="250.0" stroke="#000" stroke-width="1.2" />
<line x1="131.0" y1="245.5" x2="131.0" y2="250.0" stroke="#000" stroke-width="1.2" />
<line x1="187.8" y1="245.5" x2="187.8" y2="250.0" stroke="#000" stroke-width="1.2" />
<line x1="57.0" y1="241.2" x2="57.0" y2="239.695" stroke="#111" stroke-width="1.2" />
<line x1="54.7" y1="239.695" x2="59.3" y2="239.695" stroke="#111" stroke-width="1.5" />
<rect x="53.25" y="241.95" width="7.5" height="3.55" fill="#a8a8a8" stroke="#111" stroke-width="1.5" />
<line x1="68.5" y1="233.89" x2="68.5" y2="229.16" stroke="#111" stroke-width="1.2" />
<line x1="66.2" y1="229.16" x2="70.8" y2="229.16" stroke="#111" stroke-width="1.5" />
<rect x="64.75" y="234.64" width="7.5" height="10.86" fill="#5a5aee" stroke="#111" stroke-width="1.5" />
<line x1="79.9" y1="187.235" x2="79.9" y2="181.43" stroke="#111" stroke-width="1.2" />
<line x1="77.60000000000001" y1="181.43" x2="82.2" y2="181.43" stroke="#111" stroke-width="1.5" />
<rect x="76.15" y="187.985" width="7.5" height="57.515" fill="#ff1414" stroke="#111" stroke-width="1.5" />
<line x1="91.4" y1="192.18" x2="91.4" y2="180.35500000000002" stroke="#111" stroke-width="1.2" />
<line x1="89.10000000000001" y1="180.35500000000002" x2="93.7" y2="180.35500000000002" stroke="#111" stroke-width="1.5" />
<rect x="87.65" y="192.93" width="7.5" height="52.57" fill="#14c814" stroke="#111" stroke-width="1.5" />
<line x1="114.5" y1="239.91" x2="114.5" y2="237.975" stroke="#111" stroke-width="1.2" />
<line x1="112.2" y1="237.975" x2="116.8" y2="237.975" stroke="#111" stroke-width="1.5" />
<rect x="110.75" y="240.66" width="7.5" height="4.84" fill="#a8a8a8" stroke="#111" stroke-width="1.5" />
<line x1="126.0" y1="241.2" x2="126.0" y2="240.34" stroke="#111" stroke-width="1.2" />
<line x1="123.7" y1="240.34" x2="128.3" y2="240.34" stroke="#111" stroke-width="1.5" />
<rect x="122.25" y="241.95" width="7.5" height="3.55" fill="#5a5aee" stroke="#111" stroke-width="1.5" />
<line x1="136.9" y1="182.505" x2="136.9" y2="172.4" stroke="#111" stroke-width="1.2" />
<line x1="134.6" y1="172.4" x2="139.20000000000002" y2="172.4" stroke="#111" stroke-width="1.5" />
<rect x="133.15" y="183.255" width="7.5" height="62.245" fill="#ff1414" stroke="#111" stroke-width="1.5" />
<line x1="148.3" y1="159.715" x2="148.3" y2="150.255" stroke="#111" stroke-width="1.2" />
<line x1="146.0" y1="150.255" x2="150.60000000000002" y2="150.255" stroke="#111" stroke-width="1.5" />
<rect x="144.55" y="160.465" width="7.5" height="85.035" fill="#14c814" stroke="#111" stroke-width="1.5" />
<line x1="170.7" y1="237.115" x2="170.7" y2="235.18" stroke="#111" stroke-width="1.2" />
<line x1="168.39999999999998" y1="235.18" x2="173.0" y2="235.18" stroke="#111" stroke-width="1.5" />
<rect x="166.95" y="237.865" width="7.5" height="7.635" fill="#a8a8a8" stroke="#111" stroke-width="1.5" />
<line x1="182.1" y1="237.545" x2="182.1" y2="237.115" stroke="#111" stroke-width="1.2" />
<line x1="179.79999999999998" y1="237.115" x2="184.4" y2="237.115" stroke="#111" stroke-width="1.5" />
<rect x="178.35" y="238.295" width="7.5" height="7.205" fill="#5a5aee" stroke="#111" stroke-width="1.5" />
<line x1="193.7" y1="233.03" x2="193.7" y2="231.955" stroke="#111" stroke-width="1.2" />
<line x1="191.39999999999998" y1="231.955" x2="196.0" y2="231.955" stroke="#111" stroke-width="1.5" />
<rect x="189.95" y="233.78" width="7.5" height="11.719999999999999" fill="#ff1414" stroke="#111" stroke-width="1.5" />
<line x1="205.0" y1="187.235" x2="205.0" y2="168.315" stroke="#111" stroke-width="1.2" />
<line x1="202.7" y1="168.315" x2="207.3" y2="168.315" stroke="#111" stroke-width="1.5" />
<rect x="201.25" y="187.985" width="7.5" height="57.515" fill="#14c814" stroke="#111" stroke-width="1.5" />
<line x1="216.3" y1="180.785" x2="216.3" y2="150.04000000000002" stroke="#111" stroke-width="1.2" />
<line x1="214.0" y1="150.04000000000002" x2="218.60000000000002" y2="150.04000000000002" stroke="#111" stroke-width="1.5" />
<rect x="212.55" y="181.535" width="7.5" height="63.965" fill="url(#chk)" stroke="#111" stroke-width="1.5" />
<rect x="57.8" y="143.79999999999998" width="33.0" height="2.6" fill="#111" stroke="none" stroke-width="0" />
<text x="77.3" y="146.14" font-size="11.5" text-anchor="middle" fill="#111" font-weight="bold" stroke="#111" stroke-width="0.35">**</text>
<rect x="57.8" y="154.89999999999998" width="19.900000000000006" height="2.6" fill="#111" stroke="none" stroke-width="0" />
<text x="71.4" y="157.34" font-size="11.5" text-anchor="middle" fill="#111" font-weight="bold" stroke="#111" stroke-width="0.35">*</text>
<rect x="109.2" y="142.6" width="33.89999999999999" height="2.6" fill="#111" stroke="none" stroke-width="0" />
<text x="128.9" y="146.14" font-size="11.5" text-anchor="middle" fill="#111" font-weight="bold" stroke="#111" stroke-width="0.35">**</text>
<rect x="109.2" y="154.0" width="20.10000000000001" height="2.6" fill="#111" stroke="none" stroke-width="0" />
<text x="123.4" y="156.64" font-size="11.5" text-anchor="middle" fill="#111" font-weight="bold" stroke="#111" stroke-width="0.35">*</text>
<rect x="166.5" y="141.5" width="50.19999999999999" height="2.6" fill="#111" stroke="none" stroke-width="0" />
<text x="192.0" y="144.74" font-size="11.5" text-anchor="middle" fill="#111" font-weight="bold" stroke="#111" stroke-width="0.35">*</text>
<rect x="166.5" y="153.89999999999998" width="33.099999999999994" height="2.6" fill="#111" stroke="none" stroke-width="0" />
<text x="183.6" y="157.04" font-size="11.5" text-anchor="middle" fill="#111" font-weight="bold" stroke="#111" stroke-width="0.35">*</text>
<text x="0" y="0" font-size="10" font-weight="bold" fill="#111" text-anchor="middle" transform="translate(28.4,181.3) rotate(-90)">% NK cell IFN-γ<tspan font-size="6" dy="-3.5">+</tspan></text>
<text x="54.4" y="258.2" font-size="9.8" text-anchor="start" fill="#111" font-weight="bold" >C57BL/6</text>
<text x="111.0" y="258.2" font-size="9.8" text-anchor="start" fill="#111" font-weight="bold" >IK<tspan font-size="6.57" dy="-2.74">+/+</tspan><tspan dy="2.74"> Rag</tspan><tspan font-size="6.57" dy="-2.74">-/-</tspan></text>
<text x="168.6" y="258.2" font-size="9.8" text-anchor="start" fill="#111" font-weight="bold" >IK<tspan font-size="6.57" dy="-2.74">L/L</tspan><tspan dy="2.74"> Rag</tspan><tspan font-size="6.57" dy="-2.74">-/-</tspan></text>
<text x="240.3" y="134.3" font-size="17.5" text-anchor="start" fill="#000" font-weight="bold" >C</text>
<line x1="281.6" y1="146.4" x2="281.6" y2="246.8" stroke="#000" stroke-width="1.7" />
<line x1="277.6" y1="246.0" x2="281.6" y2="246.0" stroke="#000" stroke-width="1.3" />
<text x="276.9" y="248.5" font-size="7.2" text-anchor="end" fill="#222" font-weight="bold" >0</text>
<line x1="277.6" y1="221.45" x2="281.6" y2="221.45" stroke="#000" stroke-width="1.3" />
<text x="276.9" y="223.95" font-size="7.2" text-anchor="end" fill="#222" font-weight="bold" >25</text>
<line x1="277.6" y1="196.9" x2="281.6" y2="196.9" stroke="#000" stroke-width="1.3" />
<text x="276.9" y="199.4" font-size="7.2" text-anchor="end" fill="#222" font-weight="bold" >50</text>
<line x1="277.6" y1="172.35" x2="281.6" y2="172.35" stroke="#000" stroke-width="1.3" />
<text x="276.9" y="174.85" font-size="7.2" text-anchor="end" fill="#222" font-weight="bold" >75</text>
<line x1="277.6" y1="147.8" x2="281.6" y2="147.8" stroke="#000" stroke-width="1.3" />
<text x="276.9" y="150.3" font-size="7.2" text-anchor="end" fill="#222" font-weight="bold" >100</text>
<line x1="280.8" y1="246.0" x2="455.3" y2="246.0" stroke="#000" stroke-width="1.7" />
<line x1="305.6" y1="246.0" x2="305.6" y2="250.5" stroke="#000" stroke-width="1.2" />
<line x1="361.7" y1="246.0" x2="361.7" y2="250.5" stroke="#000" stroke-width="1.2" />
<line x1="419.0" y1="246.0" x2="419.0" y2="250.5" stroke="#000" stroke-width="1.2" />
<rect x="284.05" y="244.1968" width="7.4" height="1.8032" fill="#a8a8a8" stroke="#111" stroke-width="1.5" />
<line x1="299.65" y1="229.6988" x2="299.65" y2="220.468" stroke="#111" stroke-width="1.2" />
<line x1="297.34999999999997" y1="220.468" x2="301.95" y2="220.468" stroke="#111" stroke-width="1.5" />
<rect x="295.95" y="230.4488" width="7.4" height="15.551200000000001" fill="#5a5aee" stroke="#111" stroke-width="1.5" />
<line x1="311.65" y1="178.8312" x2="311.65" y2="170.386" stroke="#111" stroke-width="1.2" />
<line x1="309.34999999999997" y1="170.386" x2="313.95" y2="170.386" stroke="#111" stroke-width="1.5" />
<rect x="307.95" y="179.5812" width="7.4" height="66.4188" fill="#ff1414" stroke="#111" stroke-width="1.5" />
<line x1="323.65" y1="179.224" x2="323.65" y2="170.386" stroke="#111" stroke-width="1.2" />
<line x1="321.34999999999997" y1="170.386" x2="325.95" y2="170.386" stroke="#111" stroke-width="1.5" />
<rect x="319.95" y="179.974" width="7.4" height="66.026" fill="#14c814" stroke="#111" stroke-width="1.5" />
<line x1="343.95" y1="238.144" x2="343.95" y2="234.216" stroke="#111" stroke-width="1.2" />
<line x1="341.65" y1="234.216" x2="346.25" y2="234.216" stroke="#111" stroke-width="1.5" />
<rect x="340.25" y="238.894" width="7.4" height="7.106" fill="#a8a8a8" stroke="#111" stroke-width="1.5" />
<line x1="356.15" y1="216.54" x2="356.15" y2="204.9524" stroke="#111" stroke-width="1.2" />
<line x1="353.84999999999997" y1="204.9524" x2="358.45" y2="204.9524" stroke="#111" stroke-width="1.5" />
<rect x="352.45" y="217.29" width="7.4" height="28.71" fill="#5a5aee" stroke="#111" stroke-width="1.5" />
<line x1="368.05" y1="184.9196" x2="368.05" y2="176.4744" stroke="#111" stroke-width="1.2" />
<line x1="365.75" y1="176.4744" x2="370.35" y2="176.4744" stroke="#111" stroke-width="1.5" />
<rect x="364.35" y="185.6696" width="7.4" height="60.330400000000004" fill="#ff1414" stroke="#111" stroke-width="1.5" />
<line x1="380.05" y1="172.9392" x2="380.05" y2="165.476" stroke="#111" stroke-width="1.2" />
<line x1="377.75" y1="165.476" x2="382.35" y2="165.476" stroke="#111" stroke-width="1.5" />
<rect x="376.35" y="173.6892" width="7.4" height="72.3108" fill="#14c814" stroke="#111" stroke-width="1.5" />
<line x1="399.65" y1="234.6088" x2="399.65" y2="231.27" stroke="#111" stroke-width="1.2" />
<line x1="397.34999999999997" y1="231.27" x2="401.95" y2="231.27" stroke="#111" stroke-width="1.5" />
<rect x="395.95" y="235.3588" width="7.4" height="10.6412" fill="#a8a8a8" stroke="#111" stroke-width="1.5" />
<line x1="411.84999999999997" y1="236.671" x2="411.84999999999997" y2="236.18" stroke="#111" stroke-width="1.2" />
<line x1="409.54999999999995" y1="236.18" x2="414.15" y2="236.18" stroke="#111" stroke-width="1.5" />
<rect x="408.15" y="237.421" width="7.4" height="8.579" fill="#5a5aee" stroke="#111" stroke-width="1.5" />
<line x1="423.84999999999997" y1="235.689" x2="423.84999999999997" y2="229.797" stroke="#111" stroke-width="1.2" />
<line x1="421.54999999999995" y1="229.797" x2="426.15" y2="229.797" stroke="#111" stroke-width="1.5" />
<rect x="420.15" y="236.439" width="7.4" height="9.561" fill="#ff1414" stroke="#111" stroke-width="1.5" />
<line x1="435.75" y1="182.9556" x2="435.75" y2="172.35" stroke="#111" stroke-width="1.2" />
<line x1="433.45" y1="172.35" x2="438.05" y2="172.35" stroke="#111" stroke-width="1.5" />
<rect x="432.05" y="183.7056" width="7.4" height="62.2944" fill="#14c814" stroke="#111" stroke-width="1.5" />
<line x1="447.95" y1="209.9606" x2="447.95" y2="208.684" stroke="#111" stroke-width="1.2" />
<line x1="445.65" y1="208.684" x2="450.25" y2="208.684" stroke="#111" stroke-width="1.5" />
<rect x="444.25" y="210.7106" width="7.4" height="35.2894" fill="url(#chk)" stroke="#111" stroke-width="1.5" />
<rect x="288.0" y="143.8" width="33.0" height="2.4" fill="#111" stroke="none" stroke-width="0" />
<text x="306.0" y="145.46" font-size="11" text-anchor="middle" fill="#111" font-weight="bold" stroke="#111" stroke-width="0.35">***</text>
<rect x="288.0" y="154.70000000000002" width="19.69999999999999" height="2.4" fill="#111" stroke="none" stroke-width="0" />
<text x="298.7" y="156.46" font-size="11" text-anchor="middle" fill="#111" font-weight="bold" stroke="#111" stroke-width="0.35">***</text>
<rect x="343.8" y="143.4" width="33.80000000000001" height="2.4" fill="#111" stroke="none" stroke-width="0" />
<text x="362.2" y="144.66" font-size="11" text-anchor="middle" fill="#111" font-weight="bold" stroke="#111" stroke-width="0.35">***</text>
<rect x="343.8" y="154.4" width="20.0" height="2.4" fill="#111" stroke="none" stroke-width="0" />
<text x="355.4" y="155.85999999999999" font-size="11" text-anchor="middle" fill="#111" font-weight="bold" stroke="#111" stroke-width="0.35">***</text>
<rect x="398.9" y="142.60000000000002" width="47.10000000000002" height="2.4" fill="#111" stroke="none" stroke-width="0" />
<text x="425.6" y="144.06" font-size="11" text-anchor="middle" fill="#111" font-weight="bold" stroke="#111" stroke-width="0.35">*</text>
<rect x="398.9" y="153.0" width="35.0" height="2.4" fill="#111" stroke="none" stroke-width="0" />
<text x="420.7" y="154.96" font-size="11" text-anchor="middle" fill="#111" font-weight="bold" stroke="#111" stroke-width="0.35">**</text>
<text x="0" y="0" font-size="10" font-weight="bold" fill="#111" text-anchor="middle" transform="translate(261.0,183.3) rotate(-90)">% NK cell GrzB<tspan font-size="6" dy="-3.5">+</tspan></text>
<text x="288.2" y="258.9" font-size="9.8" text-anchor="start" fill="#111" font-weight="bold" >C57BL/6</text>
<text x="343.4" y="258.9" font-size="9.8" text-anchor="start" fill="#111" font-weight="bold" >IK<tspan font-size="6.57" dy="-2.74">+/+</tspan><tspan dy="2.74"> Rag</tspan><tspan font-size="6.57" dy="-2.74">-/-</tspan></text>
<text x="399.9" y="258.9" font-size="9.8" text-anchor="start" fill="#111" font-weight="bold" >IK<tspan font-size="6.57" dy="-2.74">L/L</tspan><tspan dy="2.74"> Rag</tspan><tspan font-size="6.57" dy="-2.74">-/-</tspan></text>
<rect x="455.4" y="141.05" width="14.4" height="5.7" fill="#a8a8a8" stroke="#111" stroke-width="2.1" />
<text x="473.0" y="146.9" font-size="8.3" text-anchor="start" fill="#222" font-weight="bold" >PBS</text>
<rect x="455.4" y="153.35000000000002" width="14.4" height="5.7" fill="#5a5aee" stroke="#111" stroke-width="2.1" />
<text x="473.0" y="159.20000000000002" font-size="8.3" text-anchor="start" fill="#222" font-weight="bold" >CpG</text>
<rect x="455.4" y="165.65" width="14.4" height="5.7" fill="#ff1414" stroke="#111" stroke-width="2.1" />
<text x="473.0" y="171.5" font-size="8.3" text-anchor="start" fill="#222" font-weight="bold" >CpG-Dotap</text>
<rect x="455.4" y="178.05" width="14.4" height="5.7" fill="#14c814" stroke="#111" stroke-width="2.1" />
<text x="473.0" y="183.9" font-size="8.3" text-anchor="start" fill="#222" font-weight="bold" >PIC</text>
<rect x="455.4" y="191.55" width="14.4" height="5.7" fill="url(#chk)" stroke="#111" stroke-width="2.1" />
<text x="473.0" y="197.4" font-size="8.3" text-anchor="start" fill="#222" font-weight="bold" >CpG-Dotap</text>
<text x="474.6" y="206.7" font-size="8.3" text-anchor="start" fill="#222" font-weight="bold" >+ pDC</text>
<text x="6.7" y="287.5" font-size="17.5" text-anchor="start" fill="#000" font-weight="bold" >D</text>
<text x="62.6" y="291.1" font-size="11.2" text-anchor="middle" fill="#111" font-weight="bold" >DIC</text>
<text x="132.3" y="291.1" font-size="11.2" text-anchor="middle" fill="#111" font-weight="bold" >NKp46</text>
<text x="213.8" y="291.1" font-size="11.2" text-anchor="middle" fill="#111" font-weight="bold" >GrzB</text>
<text x="294.4" y="291.1" font-size="11.2" text-anchor="middle" fill="#111" font-weight="bold" >DX5</text>
<text x="374.1" y="291.1" font-size="11.2" text-anchor="middle" fill="#111" font-weight="bold" >NK1.1</text>
<text x="467.9" y="291.1" font-size="11.2" text-anchor="middle" fill="#111" font-weight="bold" >NKp46/GrzB</text>
<rect x="30.8" y="303.8" width="60.4" height="76.3" fill="#939393" stroke="none" stroke-width="0" />
<line x1="30.8" y1="328.6" x2="91.2" y2="328.6" stroke="#b2b2b2" stroke-width="1.1" />
<line x1="30.8" y1="354.7" x2="91.2" y2="354.7" stroke="#767676" stroke-width="1.1" />
<rect x="91.2" y="303.6" width="408.0" height="76.5" fill="#000" stroke="none" stroke-width="0" />
<line x1="91.2" y1="328.4" x2="499.2" y2="328.4" stroke="#4a4a4a" stroke-width="1.1" />
<line x1="91.2" y1="355.0" x2="499.2" y2="355.0" stroke="#2e2e2e" stroke-width="1.1" />
<g filter="url(#bl)">
<ellipse cx="50.0" cy="315.6" rx="8.5" ry="7.7" fill="#161616" transform="rotate(-15 50 315.6)"/>
<ellipse cx="50.1" cy="315.1" rx="6.3" ry="5.0" fill="#f4f4f4" transform="rotate(-10 50 315)"/>
<circle cx="54.6" cy="313.5" r="1.6" fill="#eeeeee"/>
<circle cx="47.9" cy="314.5" r="1.3" fill="#2a2a2a"/><circle cx="51.9" cy="314.7" r="1.0" fill="#6a6a6a"/><circle cx="50.3" cy="316.8" r="0.8" fill="#888"/><circle cx="46.5" cy="318.6" r="1.2" fill="#aaa"/>
<circle cx="50.5" cy="309.0" r="0.9" fill="#000"/>
<circle cx="49.8" cy="340.2" r="8.9" fill="none" stroke="#c4c4c4" stroke-width="1.4"/>
<circle cx="49.8" cy="340.2" r="7.6" fill="none" stroke="#6a6a6a" stroke-width="1.0"/>
<circle cx="49.9" cy="340.0" r="6.6" fill="#1c1c1c"/>
<circle cx="50.0" cy="340.0" r="5.4" fill="#f0f0f0"/>
<ellipse cx="51.2" cy="338.0" rx="1.7" ry="0.9" fill="#222" transform="rotate(30 51.2 338)"/>
<circle cx="47.4" cy="340.3" r="0.9" fill="#333"/><circle cx="50.5" cy="341.7" r="0.9" fill="#444"/><circle cx="52.6" cy="343.6" r="1.1" fill="#2a2a2a"/><circle cx="48.2" cy="342.2" r="0.6" fill="#555"/>
<circle cx="50.5" cy="366.9" r="7.4" fill="none" stroke="#e6e6e6" stroke-width="1.5"/>
<circle cx="50.5" cy="366.9" r="5.9" fill="#1e1e1e"/>
<circle cx="50.6" cy="367.0" r="4.7" fill="#8a8a8a"/>
<path d="M47.5,365 L49.6,363.4 L50.8,366.2 L49,368.4 Z" fill="#c8c8c8"/>
<ellipse cx="51.5" cy="369.6" rx="2.4" ry="0.9" fill="#d0d0d0"/>
<circle cx="51.6" cy="366.4" r="1.2" fill="#4a4a4a"/><circle cx="53.6" cy="368.2" r="0.9" fill="#cfcfcf"/>
</g>
<g filter="url(#bl)">
<path d="M138.01,315.30 A6.51,6.51 0 0 1 137.80,316.92" fill="none" stroke="#2ad82a" stroke-width="2.0" stroke-opacity="0.53" stroke-linecap="round"/>
<path d="M137.31,317.19 A6.10,6.10 0 0 1 136.65,318.57" fill="none" stroke="#2ad82a" stroke-width="2.0" stroke-opacity="0.53" stroke-linecap="round"/>
<path d="M136.48,318.92 A6.16,6.16 0 0 1 135.42,320.04" fill="none" stroke="#2ad82a" stroke-width="2.0" stroke-opacity="0.39" stroke-linecap="round"/>
<path d="M134.89,319.96 A5.76,5.76 0 0 1 133.62,320.66" fill="none" stroke="#2ad82a" stroke-width="2.0" stroke-opacity="0.06" stroke-linecap="round"/>
<path d="M133.43,321.23 A6.23,6.23 0 0 1 131.89,321.52" fill="none" stroke="#2ad82a" stroke-width="2.0" stroke-opacity="0.35" stroke-linecap="round"/>
<path d="M131.50,321.86 A6.56,6.56 0 0 1 129.87,321.65" fill="none" stroke="#2ad82a" stroke-width="2.0" stroke-opacity="0.82" stroke-linecap="round"/>
<path d="M129.77,320.62 A5.59,5.59 0 0 1 128.51,320.02" fill="none" stroke="#2ad82a" stroke-width="2.0" stroke-opacity="1.00" stroke-linecap="round"/>
<path d="M128.28,319.73 A5.47,5.47 0 0 1 127.28,318.79" fill="none" stroke="#2ad82a" stroke-width="2.0" stroke-opacity="0.81" stroke-linecap="round"/>
<path d="M127.10,318.50 A5.44,5.44 0 0 1 126.45,317.30" fill="none" stroke="#2ad82a" stroke-width="2.0" stroke-opacity="0.90" stroke-linecap="round"/>
<path d="M125.40,317.28 A6.41,6.41 0 0 1 125.10,315.70" fill="none" stroke="#2ad82a" stroke-width="2.0" stroke-opacity="1.00" stroke-linecap="round"/>
<path d="M125.50,315.30 A6.00,6.00 0 0 1 125.69,313.81" fill="none" stroke="#2ad82a" stroke-width="2.0" stroke-opacity="1.00" stroke-linecap="round"/>
<path d="M126.05,313.53 A5.73,5.73 0 0 1 126.66,312.23" fill="none" stroke="#2ad82a" stroke-width="2.0" stroke-opacity="0.63" stroke-linecap="round"/>
<path d="M126.32,311.53 A6.41,6.41 0 0 1 127.42,310.36" fill="none" stroke="#2ad82a" stroke-width="2.0" stroke-opacity="0.80" stroke-linecap="round"/>
<path d="M128.16,310.71 A5.68,5.68 0 0 1 129.41,310.02" fill="none" stroke="#2ad82a" stroke-width="2.0" stroke-opacity="0.65" stroke-linecap="round"/>
<path d="M129.55,309.29 A6.32,6.32 0 0 1 131.10,308.99" fill="none" stroke="#2ad82a" stroke-width="2.0" stroke-opacity="0.06" stroke-linecap="round"/>
<path d="M131.50,309.44 A5.86,5.86 0 0 1 132.96,309.62" fill="none" stroke="#2ad82a" stroke-width="2.0" stroke-opacity="0.50" stroke-linecap="round"/>
<path d="M133.17,310.16 A5.40,5.40 0 0 1 134.39,310.74" fill="none" stroke="#2ad82a" stroke-width="2.0" stroke-opacity="0.78" stroke-linecap="round"/>
<path d="M135.01,310.48 A5.96,5.96 0 0 1 136.10,311.50" fill="none" stroke="#2ad82a" stroke-width="2.0" stroke-opacity="0.40" stroke-linecap="round"/>
<path d="M135.94,312.07 A5.49,5.49 0 0 1 136.60,313.28" fill="none" stroke="#2ad82a" stroke-width="2.0" stroke-opacity="0.79" stroke-linecap="round"/>
<path d="M136.94,313.53 A5.72,5.72 0 0 1 137.21,314.94" fill="none" stroke="#2ad82a" stroke-width="2.0" stroke-opacity="0.61" stroke-linecap="round"/>
<circle cx="134.01" cy="316.83" r="0.82" fill="#22bb22" opacity="0.53"/>
<circle cx="133.37" cy="317.01" r="0.41" fill="#22bb22" opacity="0.32"/>
<circle cx="132.13" cy="313.24" r="0.63" fill="#22bb22" opacity="0.43"/>
<circle cx="133.09" cy="319.36" r="0.42" fill="#22bb22" opacity="0.49"/>
<circle cx="133.96" cy="317.51" r="0.46" fill="#22bb22" opacity="0.38"/>
<circle cx="136.00" cy="314.47" r="0.51" fill="#22bb22" opacity="0.57"/>
<circle cx="132.28" cy="318.41" r="0.77" fill="#22bb22" opacity="0.49"/>
<circle cx="135.60" cy="318.29" r="0.46" fill="#22bb22" opacity="0.38"/>
<path d="M138.26,340.70 A7.36,7.36 0 0 1 138.09,342.23" fill="none" stroke="#33e033" stroke-width="2.1" stroke-opacity="0.69" stroke-linecap="round"/>
<path d="M138.34,342.69 A7.70,7.70 0 0 1 137.76,344.20" fill="none" stroke="#33e033" stroke-width="2.1" stroke-opacity="0.06" stroke-linecap="round"/>
<path d="M137.35,344.42 A7.45,7.45 0 0 1 136.43,345.68" fill="none" stroke="#33e033" stroke-width="2.1" stroke-opacity="0.42" stroke-linecap="round"/>
<path d="M136.26,346.06 A7.58,7.58 0 0 1 135.03,347.06" fill="none" stroke="#33e033" stroke-width="2.1" stroke-opacity="0.53" stroke-linecap="round"/>
<path d="M134.51,346.95 A7.22,7.22 0 0 1 133.13,347.57" fill="none" stroke="#33e033" stroke-width="2.1" stroke-opacity="0.59" stroke-linecap="round"/>
<path d="M132.97,348.41 A7.98,7.98 0 0 1 131.32,348.67" fill="none" stroke="#33e033" stroke-width="2.1" stroke-opacity="0.38" stroke-linecap="round"/>
<path d="M130.90,348.59 A7.89,7.89 0 0 1 129.26,348.41" fill="none" stroke="#33e033" stroke-width="2.1" stroke-opacity="0.06" stroke-linecap="round"/>
<path d="M128.79,348.56 A8.14,8.14 0 0 1 127.20,347.95" fill="none" stroke="#33e033" stroke-width="2.1" stroke-opacity="0.66" stroke-linecap="round"/>
<path d="M127.15,347.20 A7.51,7.51 0 0 1 125.88,346.28" fill="none" stroke="#33e033" stroke-width="2.1" stroke-opacity="1.00" stroke-linecap="round"/>
<path d="M125.13,346.47 A8.16,8.16 0 0 1 124.06,345.14" fill="none" stroke="#33e033" stroke-width="2.1" stroke-opacity="0.66" stroke-linecap="round"/>
<path d="M124.57,344.35 A7.31,7.31 0 0 1 123.95,342.96" fill="none" stroke="#33e033" stroke-width="2.1" stroke-opacity="1.00" stroke-linecap="round"/>
<path d="M123.80,342.60 A7.35,7.35 0 0 1 123.56,341.08" fill="none" stroke="#33e033" stroke-width="2.1" stroke-opacity="1.00" stroke-linecap="round"/>
<path d="M123.82,340.70 A7.08,7.08 0 0 1 123.97,339.23" fill="none" stroke="#33e033" stroke-width="2.1" stroke-opacity="0.99" stroke-linecap="round"/>
<path d="M123.15,338.62 A8.02,8.02 0 0 1 123.75,337.06" fill="none" stroke="#33e033" stroke-width="2.1" stroke-opacity="1.00" stroke-linecap="round"/>
<path d="M123.88,336.65 A8.10,8.10 0 0 1 124.88,335.28" fill="none" stroke="#33e033" stroke-width="2.1" stroke-opacity="1.00" stroke-linecap="round"/>
<path d="M125.72,335.52 A7.32,7.32 0 0 1 126.91,334.56" fill="none" stroke="#33e033" stroke-width="2.1" stroke-opacity="0.06" stroke-linecap="round"/>
<path d="M127.29,334.45 A7.21,7.21 0 0 1 128.67,333.84" fill="none" stroke="#33e033" stroke-width="2.1" stroke-opacity="0.06" stroke-linecap="round"/>
<path d="M129.05,333.79 A7.16,7.16 0 0 1 130.53,333.55" fill="none" stroke="#33e033" stroke-width="2.1" stroke-opacity="0.48" stroke-linecap="round"/>
<path d="M130.90,332.52 A8.18,8.18 0 0 1 132.60,332.70" fill="none" stroke="#33e033" stroke-width="2.1" stroke-opacity="0.48" stroke-linecap="round"/>
<path d="M132.89,333.26 A7.70,7.70 0 0 1 134.40,333.84" fill="none" stroke="#33e033" stroke-width="2.1" stroke-opacity="0.63" stroke-linecap="round"/>
<path d="M134.41,334.62 A7.02,7.02 0 0 1 135.60,335.48" fill="none" stroke="#33e033" stroke-width="2.1" stroke-opacity="0.06" stroke-linecap="round"/>
<path d="M136.67,334.93 A8.16,8.16 0 0 1 137.74,336.26" fill="none" stroke="#33e033" stroke-width="2.1" stroke-opacity="0.76" stroke-linecap="round"/>
<path d="M137.46,336.91 A7.58,7.58 0 0 1 138.11,338.36" fill="none" stroke="#33e033" stroke-width="2.1" stroke-opacity="0.31" stroke-linecap="round"/>
<path d="M138.82,338.58 A8.20,8.20 0 0 1 139.09,340.27" fill="none" stroke="#33e033" stroke-width="2.1" stroke-opacity="0.67" stroke-linecap="round"/>
<circle cx="135.15" cy="342.87" r="0.71" fill="#22bb22" opacity="0.57"/>
<circle cx="130.46" cy="335.30" r="0.74" fill="#22bb22" opacity="0.57"/>
<circle cx="127.71" cy="344.99" r="0.79" fill="#22bb22" opacity="0.56"/>
<circle cx="125.92" cy="343.56" r="0.77" fill="#22bb22" opacity="0.47"/>
<circle cx="128.07" cy="337.88" r="0.64" fill="#22bb22" opacity="0.48"/>
<circle cx="135.42" cy="343.19" r="0.84" fill="#22bb22" opacity="0.56"/>
<circle cx="130.35" cy="336.71" r="0.71" fill="#22bb22" opacity="0.47"/>
<circle cx="125.39" cy="342.86" r="0.40" fill="#22bb22" opacity="0.53"/>
<circle cx="135.82" cy="341.63" r="0.59" fill="#22bb22" opacity="0.37"/>
<circle cx="129.45" cy="336.38" r="0.65" fill="#22bb22" opacity="0.58"/>
<path d="M137.38,367.30 A5.88,5.88 0 0 1 137.20,368.76" fill="none" stroke="#1fb01f" stroke-width="1.5" stroke-opacity="0.06" stroke-linecap="round"/>
<path d="M136.89,369.05 A5.67,5.67 0 0 1 136.29,370.34" fill="none" stroke="#1fb01f" stroke-width="1.5" stroke-opacity="0.56" stroke-linecap="round"/>
<path d="M136.44,370.89 A6.11,6.11 0 0 1 135.39,372.01" fill="none" stroke="#1fb01f" stroke-width="1.5" stroke-opacity="1.00" stroke-linecap="round"/>
<path d="M135.30,372.53 A6.47,6.47 0 0 1 133.88,373.31" fill="none" stroke="#1fb01f" stroke-width="1.5" stroke-opacity="0.50" stroke-linecap="round"/>
<path d="M133.57,373.66 A6.69,6.69 0 0 1 131.92,373.98" fill="none" stroke="#1fb01f" stroke-width="1.5" stroke-opacity="0.19" stroke-linecap="round"/>
<path d="M131.50,373.32 A6.02,6.02 0 0 1 130.00,373.13" fill="none" stroke="#1fb01f" stroke-width="1.5" stroke-opacity="0.51" stroke-linecap="round"/>
<path d="M129.76,372.64 A5.62,5.62 0 0 1 128.49,372.04" fill="none" stroke="#1fb01f" stroke-width="1.5" stroke-opacity="0.36" stroke-linecap="round"/>
<path d="M127.53,372.77 A6.76,6.76 0 0 1 126.29,371.61" fill="none" stroke="#1fb01f" stroke-width="1.5" stroke-opacity="0.32" stroke-linecap="round"/>
<path d="M126.77,370.73 A5.84,5.84 0 0 1 126.07,369.45" fill="none" stroke="#1fb01f" stroke-width="1.5" stroke-opacity="0.42" stroke-linecap="round"/>
<path d="M125.95,369.10 A5.84,5.84 0 0 1 125.67,367.67" fill="none" stroke="#1fb01f" stroke-width="1.5" stroke-opacity="0.18" stroke-linecap="round"/>
<path d="M125.10,367.30 A6.40,6.40 0 0 1 125.30,365.71" fill="none" stroke="#1fb01f" stroke-width="1.5" stroke-opacity="0.20" stroke-linecap="round"/>
<path d="M125.09,365.22 A6.74,6.74 0 0 1 125.81,363.69" fill="none" stroke="#1fb01f" stroke-width="1.5" stroke-opacity="0.32" stroke-linecap="round"/>
<path d="M127.03,364.06 A5.52,5.52 0 0 1 127.98,363.05" fill="none" stroke="#1fb01f" stroke-width="1.5" stroke-opacity="0.54" stroke-linecap="round"/>
<path d="M128.29,362.88 A5.47,5.47 0 0 1 129.49,362.22" fill="none" stroke="#1fb01f" stroke-width="1.5" stroke-opacity="0.11" stroke-linecap="round"/>
<path d="M129.68,361.69 A5.89,5.89 0 0 1 131.13,361.42" fill="none" stroke="#1fb01f" stroke-width="1.5" stroke-opacity="0.42" stroke-linecap="round"/>
<path d="M131.50,361.68 A5.62,5.62 0 0 1 132.90,361.86" fill="none" stroke="#1fb01f" stroke-width="1.5" stroke-opacity="0.06" stroke-linecap="round"/>
<path d="M133.58,360.90 A6.73,6.73 0 0 1 135.10,361.62" fill="none" stroke="#1fb01f" stroke-width="1.5" stroke-opacity="0.06" stroke-linecap="round"/>
<path d="M134.72,362.87 A5.48,5.48 0 0 1 135.72,363.81" fill="none" stroke="#1fb01f" stroke-width="1.5" stroke-opacity="0.06" stroke-linecap="round"/>
<path d="M136.68,363.53 A6.41,6.41 0 0 1 137.46,364.94" fill="none" stroke="#1fb01f" stroke-width="1.5" stroke-opacity="0.38" stroke-linecap="round"/>
<path d="M138.09,365.16 A6.93,6.93 0 0 1 138.42,366.86" fill="none" stroke="#1fb01f" stroke-width="1.5" stroke-opacity="0.39" stroke-linecap="round"/>
<circle cx="130.56" cy="365.14" r="0.59" fill="#1a9a1a" opacity="0.29"/>
<circle cx="135.11" cy="367.54" r="0.70" fill="#1a9a1a" opacity="0.29"/>
<circle cx="131.07" cy="370.37" r="0.69" fill="#1a9a1a" opacity="0.38"/>
<circle cx="128.05" cy="364.28" r="0.55" fill="#1a9a1a" opacity="0.45"/>
<circle cx="132.79" cy="366.44" r="0.81" fill="#1a9a1a" opacity="0.43"/>
<circle cx="133.93" cy="369.89" r="0.66" fill="#1a9a1a" opacity="0.48"/>
<circle cx="128.66" cy="370.08" r="0.78" fill="#1a9a1a" opacity="0.45"/>
<circle cx="134.87" cy="366.07" r="0.67" fill="#1a9a1a" opacity="0.30"/>
<path d="M301.01,315.80 A6.11,6.11 0 0 1 300.88,317.07" fill="none" stroke="#20b0a0" stroke-width="1.3" stroke-opacity="0.59" stroke-linecap="round"/>
<path d="M301.00,317.44 A6.32,6.32 0 0 1 300.53,318.67" fill="none" stroke="#20b0a0" stroke-width="1.3" stroke-opacity="0.06" stroke-linecap="round"/>
<path d="M300.12,318.81 A6.03,6.03 0 0 1 299.38,319.83" fill="none" stroke="#20b0a0" stroke-width="1.3" stroke-opacity="0.69" stroke-linecap="round"/>
<path d="M299.37,320.27 A6.33,6.33 0 0 1 298.35,321.11" fill="none" stroke="#20b0a0" stroke-width="1.3" stroke-opacity="0.62" stroke-linecap="round"/>
<path d="M297.73,320.71 A5.67,5.67 0 0 1 296.65,321.19" fill="none" stroke="#20b0a0" stroke-width="1.3" stroke-opacity="0.64" stroke-linecap="round"/>
<path d="M296.51,321.80 A6.21,6.21 0 0 1 295.23,322.01" fill="none" stroke="#20b0a0" stroke-width="1.3" stroke-opacity="0.48" stroke-linecap="round"/>
<path d="M294.90,322.05 A6.25,6.25 0 0 1 293.60,321.91" fill="none" stroke="#20b0a0" stroke-width="1.3" stroke-opacity="0.06" stroke-linecap="round"/>
<path d="M293.41,321.34 A5.74,5.74 0 0 1 292.29,320.91" fill="none" stroke="#20b0a0" stroke-width="1.3" stroke-opacity="0.33" stroke-linecap="round"/>
<path d="M292.04,320.75 A5.71,5.71 0 0 1 291.08,320.05" fill="none" stroke="#20b0a0" stroke-width="1.3" stroke-opacity="0.83" stroke-linecap="round"/>
<path d="M290.53,320.17 A6.18,6.18 0 0 1 289.72,319.17" fill="none" stroke="#20b0a0" stroke-width="1.3" stroke-opacity="0.76" stroke-linecap="round"/>
<path d="M289.40,318.98 A6.36,6.36 0 0 1 288.85,317.76" fill="none" stroke="#20b0a0" stroke-width="1.3" stroke-opacity="1.00" stroke-linecap="round"/>
<path d="M289.42,317.27 A5.67,5.67 0 0 1 289.24,316.10" fill="none" stroke="#20b0a0" stroke-width="1.3" stroke-opacity="0.90" stroke-linecap="round"/>
<path d="M289.07,315.80 A5.83,5.83 0 0 1 289.20,314.59" fill="none" stroke="#20b0a0" stroke-width="1.3" stroke-opacity="0.79" stroke-linecap="round"/>
<path d="M289.09,314.24 A6.02,6.02 0 0 1 289.54,313.07" fill="none" stroke="#20b0a0" stroke-width="1.3" stroke-opacity="0.59" stroke-linecap="round"/>
<path d="M289.83,312.88 A5.85,5.85 0 0 1 290.55,311.89" fill="none" stroke="#20b0a0" stroke-width="1.3" stroke-opacity="0.64" stroke-linecap="round"/>
<path d="M290.43,311.33 A6.32,6.32 0 0 1 291.46,310.50" fill="none" stroke="#20b0a0" stroke-width="1.3" stroke-opacity="0.45" stroke-linecap="round"/>
<path d="M291.71,310.28 A6.37,6.37 0 0 1 292.93,309.74" fill="none" stroke="#20b0a0" stroke-width="1.3" stroke-opacity="0.38" stroke-linecap="round"/>
<path d="M293.41,310.24 A5.76,5.76 0 0 1 294.60,310.05" fill="none" stroke="#20b0a0" stroke-width="1.3" stroke-opacity="0.51" stroke-linecap="round"/>
<path d="M294.90,309.72 A6.08,6.08 0 0 1 296.16,309.85" fill="none" stroke="#20b0a0" stroke-width="1.3" stroke-opacity="0.51" stroke-linecap="round"/>
<path d="M296.46,309.99 A6.01,6.01 0 0 1 297.63,310.44" fill="none" stroke="#20b0a0" stroke-width="1.3" stroke-opacity="0.31" stroke-linecap="round"/>
<path d="M297.93,310.56 A6.05,6.05 0 0 1 298.95,311.30" fill="none" stroke="#20b0a0" stroke-width="1.3" stroke-opacity="0.46" stroke-linecap="round"/>
<path d="M298.90,311.80 A5.65,5.65 0 0 1 299.64,312.72" fill="none" stroke="#20b0a0" stroke-width="1.3" stroke-opacity="0.50" stroke-linecap="round"/>
<path d="M300.41,312.62 A6.37,6.37 0 0 1 300.95,313.83" fill="none" stroke="#20b0a0" stroke-width="1.3" stroke-opacity="0.52" stroke-linecap="round"/>
<path d="M300.67,314.25 A5.98,5.98 0 0 1 300.87,315.49" fill="none" stroke="#20b0a0" stroke-width="1.3" stroke-opacity="0.67" stroke-linecap="round"/>
<circle cx="297.25" cy="318.20" r="0.75" fill="#158070" opacity="0.57"/>
<circle cx="292.06" cy="316.22" r="0.45" fill="#158070" opacity="0.49"/>
<circle cx="296.54" cy="314.97" r="0.73" fill="#158070" opacity="0.31"/>
<circle cx="295.74" cy="318.08" r="0.69" fill="#158070" opacity="0.40"/>
<circle cx="292.43" cy="318.97" r="0.41" fill="#158070" opacity="0.52"/>
<circle cx="289.6" cy="317.6" r="1.1" fill="#55eedd"/><circle cx="300.8" cy="319.0" r="1.0" fill="#44ddcc"/>
<path d="M302.03,340.70 A8.23,8.23 0 0 1 301.89,342.17" fill="none" stroke="#158a7c" stroke-width="1.1" stroke-opacity="0.20" stroke-linecap="round"/>
<path d="M302.09,342.59 A8.51,8.51 0 0 1 301.62,344.04" fill="none" stroke="#158a7c" stroke-width="1.1" stroke-opacity="0.23" stroke-linecap="round"/>
<path d="M301.59,344.45 A8.64,8.64 0 0 1 300.79,345.78" fill="none" stroke="#158a7c" stroke-width="1.1" stroke-opacity="0.30" stroke-linecap="round"/>
<path d="M300.68,346.18 A8.80,8.80 0 0 1 299.59,347.32" fill="none" stroke="#158a7c" stroke-width="1.1" stroke-opacity="0.06" stroke-linecap="round"/>
<path d="M299.49,347.84 A9.13,9.13 0 0 1 298.12,348.74" fill="none" stroke="#158a7c" stroke-width="1.1" stroke-opacity="0.41" stroke-linecap="round"/>
<path d="M297.36,348.09 A8.20,8.20 0 0 1 295.98,348.60" fill="none" stroke="#158a7c" stroke-width="1.1" stroke-opacity="0.39" stroke-linecap="round"/>
<path d="M295.85,349.67 A9.20,9.20 0 0 1 294.21,349.89" fill="none" stroke="#158a7c" stroke-width="1.1" stroke-opacity="0.45" stroke-linecap="round"/>
<path d="M293.80,349.93 A9.23,9.23 0 0 1 292.15,349.79" fill="none" stroke="#158a7c" stroke-width="1.1" stroke-opacity="0.28" stroke-linecap="round"/>
<path d="M291.76,349.65 A9.18,9.18 0 0 1 290.19,349.14" fill="none" stroke="#158a7c" stroke-width="1.1" stroke-opacity="0.24" stroke-linecap="round"/>
<path d="M289.92,348.75 A8.94,8.94 0 0 1 288.55,347.93" fill="none" stroke="#158a7c" stroke-width="1.1" stroke-opacity="0.20" stroke-linecap="round"/>
<path d="M288.13,347.81 A9.10,9.10 0 0 1 286.95,346.69" fill="none" stroke="#158a7c" stroke-width="1.1" stroke-opacity="0.06" stroke-linecap="round"/>
<path d="M287.51,345.71 A8.04,8.04 0 0 1 286.72,344.51" fill="none" stroke="#158a7c" stroke-width="1.1" stroke-opacity="0.32" stroke-linecap="round"/>
<path d="M286.70,344.12 A7.88,7.88 0 0 1 286.21,342.80" fill="none" stroke="#158a7c" stroke-width="1.1" stroke-opacity="0.31" stroke-linecap="round"/>
<path d="M284.81,342.75 A9.22,9.22 0 0 1 284.59,341.11" fill="none" stroke="#158a7c" stroke-width="1.1" stroke-opacity="0.23" stroke-linecap="round"/>
<path d="M285.19,340.70 A8.61,8.61 0 0 1 285.33,339.16" fill="none" stroke="#158a7c" stroke-width="1.1" stroke-opacity="0.06" stroke-linecap="round"/>
<path d="M285.14,338.72 A8.88,8.88 0 0 1 285.64,337.21" fill="none" stroke="#158a7c" stroke-width="1.1" stroke-opacity="0.45" stroke-linecap="round"/>
<path d="M286.58,337.22 A8.01,8.01 0 0 1 287.32,335.99" fill="none" stroke="#158a7c" stroke-width="1.1" stroke-opacity="0.06" stroke-linecap="round"/>
<path d="M287.06,335.32 A8.62,8.62 0 0 1 288.13,334.21" fill="none" stroke="#158a7c" stroke-width="1.1" stroke-opacity="0.16" stroke-linecap="round"/>
<path d="M288.73,334.35 A8.13,8.13 0 0 1 289.95,333.54" fill="none" stroke="#158a7c" stroke-width="1.1" stroke-opacity="0.06" stroke-linecap="round"/>
<path d="M289.75,332.29 A9.34,9.34 0 0 1 291.32,331.70" fill="none" stroke="#158a7c" stroke-width="1.1" stroke-opacity="0.23" stroke-linecap="round"/>
<path d="M292.03,332.96 A7.94,7.94 0 0 1 293.44,332.77" fill="none" stroke="#158a7c" stroke-width="1.1" stroke-opacity="0.06" stroke-linecap="round"/>
<path d="M293.80,331.70 A9.00,9.00 0 0 1 295.41,331.85" fill="none" stroke="#158a7c" stroke-width="1.1" stroke-opacity="0.53" stroke-linecap="round"/>
<path d="M295.72,332.29 A8.62,8.62 0 0 1 297.19,332.77" fill="none" stroke="#158a7c" stroke-width="1.1" stroke-opacity="0.28" stroke-linecap="round"/>
<path d="M297.21,333.61 A7.87,7.87 0 0 1 298.43,334.33" fill="none" stroke="#158a7c" stroke-width="1.1" stroke-opacity="0.32" stroke-linecap="round"/>
<path d="M298.86,334.35 A8.12,8.12 0 0 1 299.92,335.36" fill="none" stroke="#158a7c" stroke-width="1.1" stroke-opacity="0.43" stroke-linecap="round"/>
<path d="M300.41,335.43 A8.46,8.46 0 0 1 301.25,336.69" fill="none" stroke="#158a7c" stroke-width="1.1" stroke-opacity="0.33" stroke-linecap="round"/>
<path d="M301.57,336.96 A8.62,8.62 0 0 1 302.11,338.41" fill="none" stroke="#158a7c" stroke-width="1.1" stroke-opacity="0.06" stroke-linecap="round"/>
<path d="M302.63,338.69 A9.05,9.05 0 0 1 302.84,340.29" fill="none" stroke="#158a7c" stroke-width="1.1" stroke-opacity="0.16" stroke-linecap="round"/>
<circle cx="291.89" cy="334.19" r="0.66" fill="#107060" opacity="0.35"/>
<circle cx="289.59" cy="337.66" r="0.83" fill="#107060" opacity="0.45"/>
<circle cx="293.44" cy="347.67" r="0.72" fill="#107060" opacity="0.44"/>
<circle cx="295.64" cy="336.42" r="0.79" fill="#107060" opacity="0.47"/>
<circle cx="291.62" cy="334.68" r="0.73" fill="#107060" opacity="0.35"/>
<circle cx="293.47" cy="338.79" r="0.52" fill="#107060" opacity="0.37"/>
<circle cx="298.15" cy="340.99" r="0.67" fill="#107060" opacity="0.41"/>
<circle cx="294.60" cy="347.76" r="0.68" fill="#107060" opacity="0.33"/>
<path d="M300.95,367.90 A6.05,6.05 0 0 1 300.80,369.27" fill="none" stroke="#158a7c" stroke-width="1.0" stroke-opacity="0.36" stroke-linecap="round"/>
<path d="M300.88,369.65 A6.23,6.23 0 0 1 300.32,370.96" fill="none" stroke="#158a7c" stroke-width="1.0" stroke-opacity="0.26" stroke-linecap="round"/>
<path d="M300.59,371.56 A6.77,6.77 0 0 1 299.62,372.75" fill="none" stroke="#158a7c" stroke-width="1.0" stroke-opacity="0.38" stroke-linecap="round"/>
<path d="M299.08,372.72 A6.38,6.38 0 0 1 297.88,373.54" fill="none" stroke="#158a7c" stroke-width="1.0" stroke-opacity="0.11" stroke-linecap="round"/>
<path d="M297.09,372.70 A5.28,5.28 0 0 1 295.95,373.08" fill="none" stroke="#158a7c" stroke-width="1.0" stroke-opacity="0.20" stroke-linecap="round"/>
<path d="M295.66,373.20 A5.36,5.36 0 0 1 294.44,373.24" fill="none" stroke="#158a7c" stroke-width="1.0" stroke-opacity="0.18" stroke-linecap="round"/>
<path d="M294.03,373.92 A6.08,6.08 0 0 1 292.69,373.57" fill="none" stroke="#158a7c" stroke-width="1.0" stroke-opacity="0.20" stroke-linecap="round"/>
<path d="M292.36,373.46 A6.11,6.11 0 0 1 291.17,372.74" fill="none" stroke="#158a7c" stroke-width="1.0" stroke-opacity="0.30" stroke-linecap="round"/>
<path d="M290.65,372.81 A6.50,6.50 0 0 1 289.65,371.72" fill="none" stroke="#158a7c" stroke-width="1.0" stroke-opacity="0.50" stroke-linecap="round"/>
<path d="M289.50,371.37 A6.41,6.41 0 0 1 288.86,370.06" fill="none" stroke="#158a7c" stroke-width="1.0" stroke-opacity="0.13" stroke-linecap="round"/>
<path d="M289.67,369.44 A5.46,5.46 0 0 1 289.45,368.21" fill="none" stroke="#158a7c" stroke-width="1.0" stroke-opacity="0.12" stroke-linecap="round"/>
<path d="M288.91,367.90 A5.99,5.99 0 0 1 289.06,366.54" fill="none" stroke="#158a7c" stroke-width="1.0" stroke-opacity="0.06" stroke-linecap="round"/>
<path d="M288.46,366.01 A6.71,6.71 0 0 1 289.06,364.60" fill="none" stroke="#158a7c" stroke-width="1.0" stroke-opacity="0.06" stroke-linecap="round"/>
<path d="M289.72,364.57 A6.16,6.16 0 0 1 290.61,363.48" fill="none" stroke="#158a7c" stroke-width="1.0" stroke-opacity="0.27" stroke-linecap="round"/>
<path d="M290.81,363.18 A6.25,6.25 0 0 1 291.98,362.37" fill="none" stroke="#158a7c" stroke-width="1.0" stroke-opacity="0.25" stroke-linecap="round"/>
<path d="M292.26,362.13 A6.35,6.35 0 0 1 293.64,361.68" fill="none" stroke="#158a7c" stroke-width="1.0" stroke-opacity="0.32" stroke-linecap="round"/>
<path d="M294.10,362.36 A5.59,5.59 0 0 1 295.38,362.33" fill="none" stroke="#158a7c" stroke-width="1.0" stroke-opacity="0.06" stroke-linecap="round"/>
<path d="M295.81,361.56 A6.41,6.41 0 0 1 297.22,361.93" fill="none" stroke="#158a7c" stroke-width="1.0" stroke-opacity="0.06" stroke-linecap="round"/>
<path d="M297.56,362.08 A6.40,6.40 0 0 1 298.81,362.83" fill="none" stroke="#158a7c" stroke-width="1.0" stroke-opacity="0.26" stroke-linecap="round"/>
<path d="M299.29,362.83 A6.71,6.71 0 0 1 300.33,363.96" fill="none" stroke="#158a7c" stroke-width="1.0" stroke-opacity="0.12" stroke-linecap="round"/>
<path d="M299.85,364.72 A5.89,5.89 0 0 1 300.44,365.92" fill="none" stroke="#158a7c" stroke-width="1.0" stroke-opacity="0.13" stroke-linecap="round"/>
<path d="M300.26,366.33 A5.59,5.59 0 0 1 300.48,367.58" fill="none" stroke="#158a7c" stroke-width="1.0" stroke-opacity="0.29" stroke-linecap="round"/>
<circle cx="290.02" cy="367.18" r="0.71" fill="#158a7c" opacity="0.40"/>
<circle cx="299.47" cy="367.29" r="0.65" fill="#158a7c" opacity="0.31"/>
<circle cx="292.45" cy="365.48" r="0.46" fill="#158a7c" opacity="0.29"/>
<circle cx="293.13" cy="367.58" r="0.57" fill="#158a7c" opacity="0.46"/>
<circle cx="292.39" cy="368.62" r="0.64" fill="#158a7c" opacity="0.39"/>
<circle cx="295.55" cy="364.24" r="0.84" fill="#158a7c" opacity="0.54"/>
<circle cx="294.65" cy="365.42" r="0.41" fill="#158a7c" opacity="0.52"/>
<path d="M382.96,315.30 A5.86,5.86 0 0 1 382.73,316.92" fill="none" stroke="#c01a38" stroke-width="1.0" stroke-opacity="0.54" stroke-linecap="round"/>
<path d="M382.80,317.37 A6.06,6.06 0 0 1 382.01,318.86" fill="none" stroke="#c01a38" stroke-width="1.0" stroke-opacity="0.29" stroke-linecap="round"/>
<path d="M381.89,319.32 A6.25,6.25 0 0 1 380.60,320.48" fill="none" stroke="#c01a38" stroke-width="1.0" stroke-opacity="0.45" stroke-linecap="round"/>
<path d="M380.34,320.91 A6.48,6.48 0 0 1 378.67,321.59" fill="none" stroke="#c01a38" stroke-width="1.0" stroke-opacity="0.24" stroke-linecap="round"/>
<path d="M378.06,320.76 A5.54,5.54 0 0 1 376.52,320.81" fill="none" stroke="#c01a38" stroke-width="1.0" stroke-opacity="0.61" stroke-linecap="round"/>
<path d="M376.07,321.14 A5.93,5.93 0 0 1 374.50,320.63" fill="none" stroke="#c01a38" stroke-width="1.0" stroke-opacity="0.18" stroke-linecap="round"/>
<path d="M374.08,320.53 A6.04,6.04 0 0 1 372.75,319.50" fill="none" stroke="#c01a38" stroke-width="1.0" stroke-opacity="0.06" stroke-linecap="round"/>
<path d="M372.37,319.27 A6.18,6.18 0 0 1 371.46,317.81" fill="none" stroke="#c01a38" stroke-width="1.0" stroke-opacity="0.06" stroke-linecap="round"/>
<path d="M371.58,317.31 A5.87,5.87 0 0 1 371.24,315.71" fill="none" stroke="#c01a38" stroke-width="1.0" stroke-opacity="0.43" stroke-linecap="round"/>
<path d="M371.26,315.30 A5.84,5.84 0 0 1 371.48,313.69" fill="none" stroke="#c01a38" stroke-width="1.0" stroke-opacity="0.06" stroke-linecap="round"/>
<path d="M371.86,313.39 A5.57,5.57 0 0 1 372.59,312.02" fill="none" stroke="#c01a38" stroke-width="1.0" stroke-opacity="0.52" stroke-linecap="round"/>
<path d="M372.41,311.36 A6.12,6.12 0 0 1 373.68,310.22" fill="none" stroke="#c01a38" stroke-width="1.0" stroke-opacity="0.21" stroke-linecap="round"/>
<path d="M374.14,310.17 A5.92,5.92 0 0 1 375.67,309.55" fill="none" stroke="#c01a38" stroke-width="1.0" stroke-opacity="0.06" stroke-linecap="round"/>
<path d="M376.08,309.52 A5.87,5.87 0 0 1 377.71,309.46" fill="none" stroke="#c01a38" stroke-width="1.0" stroke-opacity="0.28" stroke-linecap="round"/>
<path d="M378.11,309.56 A5.83,5.83 0 0 1 379.65,310.06" fill="none" stroke="#c01a38" stroke-width="1.0" stroke-opacity="0.48" stroke-linecap="round"/>
<path d="M380.31,309.74 A6.42,6.42 0 0 1 381.72,310.84" fill="none" stroke="#c01a38" stroke-width="1.0" stroke-opacity="0.42" stroke-linecap="round"/>
<path d="M381.39,311.70 A5.60,5.60 0 0 1 382.21,313.02" fill="none" stroke="#c01a38" stroke-width="1.0" stroke-opacity="0.36" stroke-linecap="round"/>
<path d="M382.35,313.39 A5.58,5.58 0 0 1 382.67,314.91" fill="none" stroke="#c01a38" stroke-width="1.0" stroke-opacity="0.06" stroke-linecap="round"/>
<circle cx="373.83" cy="313.91" r="0.69" fill="#a01530" opacity="0.32"/>
<circle cx="377.32" cy="313.91" r="0.46" fill="#a01530" opacity="0.42"/>
<circle cx="379.55" cy="316.68" r="0.71" fill="#a01530" opacity="0.42"/>
<circle cx="372.3" cy="318.5" r="1.1" fill="#e03050"/><circle cx="383" cy="316.5" r="1.1" fill="#e03050"/><circle cx="377.5" cy="309.5" r="0.9" fill="#cc2545"/>
<ellipse cx="374.9" cy="340.7" rx="7.7" ry="7.9" fill="none" stroke="#d81a3a" stroke-width="1.5"/>
<path d="M372.3,374.3 Q379.8,373.2 382.6,366.3" fill="none" stroke="#e8203f" stroke-width="1.9"/>
<circle cx="372.8" cy="365" r="1.0" fill="#b01830"/><circle cx="377" cy="361.5" r="1.0" fill="#c01a38"/><circle cx="380" cy="363.5" r="0.9" fill="#c02040"/>
<path d="M464.92,315.80 A6.12,6.12 0 0 1 464.68,317.49" fill="none" stroke="#1f8f1f" stroke-width="1.6" stroke-opacity="0.06" stroke-linecap="round"/>
<path d="M464.25,317.78 A5.80,5.80 0 0 1 463.49,319.21" fill="none" stroke="#1f8f1f" stroke-width="1.6" stroke-opacity="0.56" stroke-linecap="round"/>
<path d="M464.04,320.20 A6.84,6.84 0 0 1 462.63,321.47" fill="none" stroke="#1f8f1f" stroke-width="1.6" stroke-opacity="0.55" stroke-linecap="round"/>
<path d="M461.91,321.19 A6.22,6.22 0 0 1 460.30,321.83" fill="none" stroke="#1f8f1f" stroke-width="1.6" stroke-opacity="0.67" stroke-linecap="round"/>
<path d="M459.85,321.77 A6.06,6.06 0 0 1 458.17,321.83" fill="none" stroke="#1f8f1f" stroke-width="1.6" stroke-opacity="0.06" stroke-linecap="round"/>
<path d="M457.62,322.51 A6.81,6.81 0 0 1 455.81,321.92" fill="none" stroke="#1f8f1f" stroke-width="1.6" stroke-opacity="0.70" stroke-linecap="round"/>
<path d="M455.74,321.10 A6.13,6.13 0 0 1 454.39,320.05" fill="none" stroke="#1f8f1f" stroke-width="1.6" stroke-opacity="0.62" stroke-linecap="round"/>
<path d="M454.09,319.76 A6.15,6.15 0 0 1 453.18,318.30" fill="none" stroke="#1f8f1f" stroke-width="1.6" stroke-opacity="0.68" stroke-linecap="round"/>
<path d="M452.52,318.09 A6.69,6.69 0 0 1 452.13,316.27" fill="none" stroke="#1f8f1f" stroke-width="1.6" stroke-opacity="0.60" stroke-linecap="round"/>
<path d="M452.42,315.80 A6.38,6.38 0 0 1 452.67,314.04" fill="none" stroke="#1f8f1f" stroke-width="1.6" stroke-opacity="0.77" stroke-linecap="round"/>
<path d="M452.41,313.48 A6.80,6.80 0 0 1 453.30,311.81" fill="none" stroke="#1f8f1f" stroke-width="1.6" stroke-opacity="0.29" stroke-linecap="round"/>
<path d="M453.96,311.74 A6.32,6.32 0 0 1 455.27,310.56" fill="none" stroke="#1f8f1f" stroke-width="1.6" stroke-opacity="0.06" stroke-linecap="round"/>
<path d="M455.35,309.82 A6.91,6.91 0 0 1 457.13,309.10" fill="none" stroke="#1f8f1f" stroke-width="1.6" stroke-opacity="0.47" stroke-linecap="round"/>
<path d="M457.80,310.15 A5.73,5.73 0 0 1 459.40,310.10" fill="none" stroke="#1f8f1f" stroke-width="1.6" stroke-opacity="0.53" stroke-linecap="round"/>
<path d="M459.80,310.13 A5.76,5.76 0 0 1 461.32,310.62" fill="none" stroke="#1f8f1f" stroke-width="1.6" stroke-opacity="0.47" stroke-linecap="round"/>
<path d="M462.21,309.89 A6.82,6.82 0 0 1 463.71,311.06" fill="none" stroke="#1f8f1f" stroke-width="1.6" stroke-opacity="0.24" stroke-linecap="round"/>
<path d="M463.27,312.05 A5.84,5.84 0 0 1 464.13,313.43" fill="none" stroke="#1f8f1f" stroke-width="1.6" stroke-opacity="0.24" stroke-linecap="round"/>
<path d="M464.41,313.76 A5.97,5.97 0 0 1 464.75,315.38" fill="none" stroke="#1f8f1f" stroke-width="1.6" stroke-opacity="0.57" stroke-linecap="round"/>
<circle cx="459.67" cy="320.40" r="0.61" fill="#1a7a1a" opacity="0.53"/>
<circle cx="456.35" cy="317.72" r="0.82" fill="#1a7a1a" opacity="0.50"/>
<circle cx="454.88" cy="315.96" r="0.71" fill="#1a7a1a" opacity="0.51"/>
<circle cx="461.75" cy="314.05" r="0.76" fill="#1a7a1a" opacity="0.50"/>
<circle cx="461.71" cy="311.97" r="0.76" fill="#1a7a1a" opacity="0.57"/>
<circle cx="462.93" cy="314.68" r="0.61" fill="#1a7a1a" opacity="0.51"/>
<circle cx="459.1" cy="317.0" r="1.5" fill="#d8ff66"/>
<path d="M466.09,340.20 A7.89,7.89 0 0 1 465.88,341.99" fill="none" stroke="#22a022" stroke-width="1.6" stroke-opacity="0.60" stroke-linecap="round"/>
<path d="M466.54,342.65 A8.69,8.69 0 0 1 465.76,344.47" fill="none" stroke="#22a022" stroke-width="1.6" stroke-opacity="0.27" stroke-linecap="round"/>
<path d="M464.58,344.30 A7.59,7.59 0 0 1 463.49,345.64" fill="none" stroke="#22a022" stroke-width="1.6" stroke-opacity="0.06" stroke-linecap="round"/>
<path d="M463.87,346.74 A8.66,8.66 0 0 1 462.24,347.86" fill="none" stroke="#22a022" stroke-width="1.6" stroke-opacity="0.06" stroke-linecap="round"/>
<path d="M461.30,346.99 A7.46,7.46 0 0 1 459.68,347.51" fill="none" stroke="#22a022" stroke-width="1.6" stroke-opacity="0.06" stroke-linecap="round"/>
<path d="M459.27,347.67 A7.55,7.55 0 0 1 457.55,347.72" fill="none" stroke="#22a022" stroke-width="1.6" stroke-opacity="0.52" stroke-linecap="round"/>
<path d="M457.04,348.24 A8.12,8.12 0 0 1 455.25,347.76" fill="none" stroke="#22a022" stroke-width="1.6" stroke-opacity="0.23" stroke-linecap="round"/>
<path d="M455.10,346.98 A7.45,7.45 0 0 1 453.65,346.10" fill="none" stroke="#22a022" stroke-width="1.6" stroke-opacity="0.41" stroke-linecap="round"/>
<path d="M453.20,345.97 A7.63,7.63 0 0 1 452.03,344.68" fill="none" stroke="#22a022" stroke-width="1.6" stroke-opacity="0.41" stroke-linecap="round"/>
<path d="M451.80,344.32 A7.61,7.61 0 0 1 451.03,342.76" fill="none" stroke="#22a022" stroke-width="1.6" stroke-opacity="0.91" stroke-linecap="round"/>
<path d="M450.96,342.32 A7.54,7.54 0 0 1 450.67,340.63" fill="none" stroke="#22a022" stroke-width="1.6" stroke-opacity="0.41" stroke-linecap="round"/>
<path d="M450.13,340.20 A8.07,8.07 0 0 1 450.34,338.37" fill="none" stroke="#22a022" stroke-width="1.6" stroke-opacity="0.41" stroke-linecap="round"/>
<path d="M450.85,338.04 A7.66,7.66 0 0 1 451.53,336.43" fill="none" stroke="#22a022" stroke-width="1.6" stroke-opacity="0.96" stroke-linecap="round"/>
<path d="M451.66,335.99 A7.78,7.78 0 0 1 452.78,334.62" fill="none" stroke="#22a022" stroke-width="1.6" stroke-opacity="0.99" stroke-linecap="round"/>
<path d="M452.98,334.17 A7.98,7.98 0 0 1 454.48,333.15" fill="none" stroke="#22a022" stroke-width="1.6" stroke-opacity="0.47" stroke-linecap="round"/>
<path d="M454.62,332.35 A8.63,8.63 0 0 1 456.49,331.75" fill="none" stroke="#22a022" stroke-width="1.6" stroke-opacity="0.06" stroke-linecap="round"/>
<path d="M457.06,332.24 A8.04,8.04 0 0 1 458.89,332.19" fill="none" stroke="#22a022" stroke-width="1.6" stroke-opacity="0.60" stroke-linecap="round"/>
<path d="M459.44,331.60 A8.69,8.69 0 0 1 461.35,332.11" fill="none" stroke="#22a022" stroke-width="1.6" stroke-opacity="0.06" stroke-linecap="round"/>
<path d="M461.24,333.55 A7.32,7.32 0 0 1 462.67,334.41" fill="none" stroke="#22a022" stroke-width="1.6" stroke-opacity="0.06" stroke-linecap="round"/>
<path d="M463.71,333.84 A8.42,8.42 0 0 1 465.01,335.25" fill="none" stroke="#22a022" stroke-width="1.6" stroke-opacity="0.44" stroke-linecap="round"/>
<path d="M464.53,336.13 A7.52,7.52 0 0 1 465.28,337.67" fill="none" stroke="#22a022" stroke-width="1.6" stroke-opacity="0.56" stroke-linecap="round"/>
<path d="M465.55,338.04 A7.66,7.66 0 0 1 465.85,339.76" fill="none" stroke="#22a022" stroke-width="1.6" stroke-opacity="0.06" stroke-linecap="round"/>
<circle cx="461.53" cy="336.62" r="0.67" fill="#1a7a1a" opacity="0.60"/>
<circle cx="457.69" cy="345.15" r="0.43" fill="#1a7a1a" opacity="0.53"/>
<circle cx="464.36" cy="340.25" r="0.77" fill="#1a7a1a" opacity="0.55"/>
<circle cx="461.27" cy="341.95" r="0.70" fill="#1a7a1a" opacity="0.33"/>
<circle cx="453.58" cy="340.78" r="0.82" fill="#1a7a1a" opacity="0.48"/>
<circle cx="460.54" cy="337.27" r="0.74" fill="#1a7a1a" opacity="0.43"/>
<circle cx="459.98" cy="339.18" r="0.76" fill="#1a7a1a" opacity="0.36"/>
<circle cx="458.2" cy="337.7" r="1.7" fill="#ffee33"/><circle cx="455.4" cy="336" r="1.2" fill="#eeee55"/><circle cx="452.5" cy="339" r="1.5" fill="#aaf055"/>
</g>
<g filter="url(#bl)">
<circle cx="213.8" cy="317.0" r="1.5" fill="#ffee44"/>
<circle cx="210.1" cy="336.0" r="1.4" fill="#ffee33"/><circle cx="213.2" cy="337.3" r="1.6" fill="#ffee33"/><circle cx="207.2" cy="339.0" r="1.5" fill="#eedd55"/><circle cx="212.6" cy="344.7" r="0.7" fill="#aa9933"/>
<circle cx="210.90" cy="362.80" r="1.1" fill="#ffee22"/>
<circle cx="216.60" cy="364.50" r="1.4" fill="#ffee22"/>
<circle cx="209.20" cy="366.70" r="1.3" fill="#ffee22"/>
<circle cx="214.30" cy="367.90" r="2.2" fill="#ffee22"/>
<circle cx="216.70" cy="370.10" r="1.4" fill="#ffee22"/>
<circle cx="211.50" cy="371.80" r="1.6" fill="#ffee22"/>
<circle cx="207.50" cy="370.10" r="1.0" fill="#ffee22"/>
<circle cx="218.40" cy="366.70" r="1.0" fill="#ffee22"/>
<circle cx="212.40" cy="365.40" r="1.1" fill="#ffee22"/>
<circle cx="213.10" cy="369.70" r="1.3" fill="#ffee22"/>
<circle cx="457.40" cy="362.80" r="1.1" fill="#ffee22"/>
<circle cx="463.10" cy="364.50" r="1.4" fill="#ffee22"/>
<circle cx="455.70" cy="366.70" r="1.3" fill="#ffee22"/>
<circle cx="460.80" cy="367.90" r="2.2" fill="#ffee22"/>
<circle cx="463.20" cy="370.10" r="1.4" fill="#ffee22"/>
<circle cx="458.00" cy="371.80" r="1.6" fill="#ffee22"/>
<circle cx="454.00" cy="370.10" r="1.0" fill="#ffee22"/>
<circle cx="464.90" cy="366.70" r="1.0" fill="#ffee22"/>
<circle cx="458.90" cy="365.40" r="1.1" fill="#ffee22"/>
<circle cx="459.60" cy="369.70" r="1.3" fill="#ffee22"/>
</g>
<text x="170.1" y="394.2" font-size="11.2" text-anchor="middle" fill="#111" font-weight="bold" >PBS</text>
<text x="229.5" y="394.2" font-size="11.2" text-anchor="middle" fill="#6b6bdb" font-weight="bold" >CpG</text>
<text x="317.3" y="394.2" font-size="11.2" text-anchor="middle" fill="#dd2222" font-weight="bold" >CpG-Dotap</text>
<text x="380.1" y="394.2" font-size="11.2" text-anchor="middle" fill="#33bb33" font-weight="bold" >PIC</text>
<line x1="139.4" y1="406.5" x2="139.4" y2="433.4" stroke="#3a3a3a" stroke-width="0.9" />
<line x1="142.7" y1="414.9" x2="142.7" y2="433.4" stroke="#6a6a6a" stroke-width="0.9" />
<line x1="145.1" y1="417.9" x2="145.1" y2="433.4" stroke="#3a3a3a" stroke-width="0.9" />
<line x1="147.9" y1="423" x2="147.9" y2="433.4" stroke="#6a6a6a" stroke-width="0.9" />
<line x1="150.6" y1="426.3" x2="150.6" y2="433.4" stroke="#3a3a3a" stroke-width="0.9" />
<line x1="153.2" y1="430" x2="153.2" y2="433.4" stroke="#6a6a6a" stroke-width="0.9" />
<line x1="155.5" y1="432.3" x2="155.5" y2="433.4" stroke="#3a3a3a" stroke-width="0.9" />
<line x1="158" y1="433" x2="158" y2="433.4" stroke="#6a6a6a" stroke-width="0.9" />
<line x1="137.8" y1="433.4" x2="172.86" y2="433.4" stroke="#777" stroke-width="0.5" />
<rect x="137.45000000000002" y="404.75" width="58.8" height="28.999999999999954" fill="none" stroke="#858585" stroke-width="1.3" />
<text x="189.0" y="421.6" font-size="11.6" text-anchor="end" fill="#111" font-weight="bold" >1.4</text>
<line x1="139.4" y1="446" x2="139.4" y2="470.4" stroke="#3a3a3a" stroke-width="0.9" />
<line x1="142.7" y1="447.9" x2="142.7" y2="470.4" stroke="#6a6a6a" stroke-width="0.9" />
<line x1="145.1" y1="447.1" x2="145.1" y2="470.4" stroke="#3a3a3a" stroke-width="0.9" />
<line x1="148.2" y1="456" x2="148.2" y2="470.4" stroke="#6a6a6a" stroke-width="0.9" />
<line x1="150.6" y1="462.2" x2="150.6" y2="470.4" stroke="#3a3a3a" stroke-width="0.9" />
<line x1="153.2" y1="465.7" x2="153.2" y2="470.4" stroke="#6a6a6a" stroke-width="0.9" />
<line x1="155.6" y1="469" x2="155.6" y2="470.4" stroke="#3a3a3a" stroke-width="0.9" />
<line x1="157.9" y1="470.1" x2="157.9" y2="470.4" stroke="#6a6a6a" stroke-width="0.9" />
<line x1="160.3" y1="470.6" x2="160.3" y2="470.4" stroke="#3a3a3a" stroke-width="0.9" />
<line x1="137.8" y1="470.4" x2="173.28" y2="470.4" stroke="#777" stroke-width="0.5" />
<rect x="137.45000000000002" y="442.04999999999995" width="59.499999999999986" height="28.7" fill="none" stroke="#858585" stroke-width="1.3" />
<text x="189.0" y="459.0" font-size="11.6" text-anchor="end" fill="#111" font-weight="bold" >1.6</text>
<line x1="139.4" y1="489" x2="139.4" y2="508.1" stroke="#3a3a3a" stroke-width="0.9" />
<line x1="142.7" y1="481.2" x2="142.7" y2="508.1" stroke="#6a6a6a" stroke-width="0.9" />
<line x1="145.4" y1="487.7" x2="145.4" y2="508.1" stroke="#3a3a3a" stroke-width="0.9" />
<line x1="148.2" y1="496.6" x2="148.2" y2="508.1" stroke="#6a6a6a" stroke-width="0.9" />
<line x1="150.8" y1="501.5" x2="150.8" y2="508.1" stroke="#3a3a3a" stroke-width="0.9" />
<line x1="153.2" y1="504.7" x2="153.2" y2="508.1" stroke="#6a6a6a" stroke-width="0.9" />
<line x1="156" y1="507.1" x2="156" y2="508.1" stroke="#3a3a3a" stroke-width="0.9" />
<line x1="158.4" y1="507.8" x2="158.4" y2="508.1" stroke="#6a6a6a" stroke-width="0.9" />
<line x1="160.8" y1="508" x2="160.8" y2="508.1" stroke="#3a3a3a" stroke-width="0.9" />
<line x1="137.8" y1="508.1" x2="172.86" y2="508.1" stroke="#777" stroke-width="0.5" />
<rect x="137.45000000000002" y="479.34999999999997" width="58.8" height="29.100000000000033" fill="none" stroke="#858585" stroke-width="1.3" />
<text x="189.0" y="500.2" font-size="11.6" text-anchor="end" fill="#111" font-weight="bold" >2.4</text>
<line x1="205.2" y1="406.5" x2="205.2" y2="433.4" stroke="#3a3a3a" stroke-width="0.9" />
<line x1="208" y1="414.6" x2="208" y2="433.4" stroke="#6a6a6a" stroke-width="0.9" />
<line x1="210.7" y1="411.4" x2="210.7" y2="433.4" stroke="#3a3a3a" stroke-width="0.9" />
<line x1="213.3" y1="417" x2="213.3" y2="433.4" stroke="#6a6a6a" stroke-width="0.9" />
<line x1="216.1" y1="422.7" x2="216.1" y2="433.4" stroke="#3a3a3a" stroke-width="0.9" />
<line x1="218.7" y1="426" x2="218.7" y2="433.4" stroke="#6a6a6a" stroke-width="0.9" />
<line x1="221.5" y1="428.9" x2="221.5" y2="433.4" stroke="#3a3a3a" stroke-width="0.9" />
<line x1="224.2" y1="431.2" x2="224.2" y2="433.4" stroke="#6a6a6a" stroke-width="0.9" />
<line x1="226.7" y1="432.5" x2="226.7" y2="433.4" stroke="#3a3a3a" stroke-width="0.9" />
<line x1="229.1" y1="433" x2="229.1" y2="433.4" stroke="#6a6a6a" stroke-width="0.9" />
<line x1="203.3" y1="433.4" x2="240.28000000000003" y2="433.4" stroke="#777" stroke-width="0.5" />
<rect x="202.95000000000002" y="404.25" width="62.000000000000014" height="29.499999999999954" fill="none" stroke="#7373e0" stroke-width="1.3" />
<text x="254.6" y="421.6" font-size="11.6" text-anchor="end" fill="#6b6bd6" font-weight="bold" >2.2</text>
<line x1="207.7" y1="454.9" x2="207.7" y2="470.4" stroke="#3a3a3a" stroke-width="0.9" />
<line x1="210.9" y1="453.6" x2="210.9" y2="470.4" stroke="#6a6a6a" stroke-width="0.9" />
<line x1="213.7" y1="448.4" x2="213.7" y2="470.4" stroke="#3a3a3a" stroke-width="0.9" />
<line x1="216.4" y1="452" x2="216.4" y2="470.4" stroke="#6a6a6a" stroke-width="0.9" />
<line x1="219" y1="458.8" x2="219" y2="470.4" stroke="#3a3a3a" stroke-width="0.9" />
<line x1="221.8" y1="461.7" x2="221.8" y2="470.4" stroke="#6a6a6a" stroke-width="0.9" />
<line x1="224.5" y1="464.9" x2="224.5" y2="470.4" stroke="#3a3a3a" stroke-width="0.9" />
<line x1="227.1" y1="466.6" x2="227.1" y2="470.4" stroke="#6a6a6a" stroke-width="0.9" />
<line x1="229.9" y1="469" x2="229.9" y2="470.4" stroke="#3a3a3a" stroke-width="0.9" />
<line x1="232.3" y1="470.1" x2="232.3" y2="470.4" stroke="#6a6a6a" stroke-width="0.9" />
<line x1="204.9" y1="470.4" x2="242.18" y2="470.4" stroke="#777" stroke-width="0.5" />
<rect x="204.55" y="441.25" width="62.499999999999986" height="29.499999999999954" fill="none" stroke="#7373e0" stroke-width="1.3" />
<text x="254.6" y="459.0" font-size="11.6" text-anchor="end" fill="#6b6bd6" font-weight="bold" >2.8</text>
<line x1="205.6" y1="486" x2="205.6" y2="508.1" stroke="#3a3a3a" stroke-width="0.9" />
<line x1="208.3" y1="490.1" x2="208.3" y2="508.1" stroke="#6a6a6a" stroke-width="0.9" />
<line x1="210.9" y1="485.7" x2="210.9" y2="508.1" stroke="#3a3a3a" stroke-width="0.9" />
<line x1="214" y1="489" x2="214" y2="508.1" stroke="#6a6a6a" stroke-width="0.9" />
<line x1="216.6" y1="495.8" x2="216.6" y2="508.1" stroke="#3a3a3a" stroke-width="0.9" />
<line x1="219" y1="501" x2="219" y2="508.1" stroke="#6a6a6a" stroke-width="0.9" />
<line x1="221.8" y1="503.9" x2="221.8" y2="508.1" stroke="#3a3a3a" stroke-width="0.9" />
<line x1="224.5" y1="505.8" x2="224.5" y2="508.1" stroke="#6a6a6a" stroke-width="0.9" />
<line x1="227.1" y1="507.1" x2="227.1" y2="508.1" stroke="#3a3a3a" stroke-width="0.9" />
<line x1="229.6" y1="507.8" x2="229.6" y2="508.1" stroke="#6a6a6a" stroke-width="0.9" />
<line x1="203.3" y1="508.1" x2="240.76" y2="508.1" stroke="#777" stroke-width="0.5" />
<rect x="202.95000000000002" y="479.34999999999997" width="62.79999999999997" height="29.100000000000033" fill="none" stroke="#7373e0" stroke-width="1.3" />
<text x="254.6" y="500.2" font-size="11.6" text-anchor="end" fill="#6b6bd6" font-weight="bold" >2.6</text>
<line x1="283.7" y1="429.2" x2="283.7" y2="432.8" stroke="#3a3a3a" stroke-width="0.9" />
<line x1="286.7" y1="426.8" x2="286.7" y2="432.8" stroke="#6a6a6a" stroke-width="0.9" />
<line x1="289.1" y1="422.4" x2="289.1" y2="432.8" stroke="#3a3a3a" stroke-width="0.9" />
<line x1="292" y1="420.8" x2="292" y2="432.8" stroke="#6a6a6a" stroke-width="0.9" />
<line x1="294.5" y1="418.7" x2="294.5" y2="432.8" stroke="#3a3a3a" stroke-width="0.9" />
<line x1="297.2" y1="421.1" x2="297.2" y2="432.8" stroke="#6a6a6a" stroke-width="0.9" />
<line x1="300.1" y1="420.8" x2="300.1" y2="432.8" stroke="#3a3a3a" stroke-width="0.9" />
<line x1="302.6" y1="423.5" x2="302.6" y2="432.8" stroke="#6a6a6a" stroke-width="0.9" />
<line x1="305.3" y1="426" x2="305.3" y2="432.8" stroke="#3a3a3a" stroke-width="0.9" />
<line x1="307.9" y1="427.9" x2="307.9" y2="432.8" stroke="#6a6a6a" stroke-width="0.9" />
<line x1="310.5" y1="429.2" x2="310.5" y2="432.8" stroke="#3a3a3a" stroke-width="0.9" />
<line x1="313.1" y1="430" x2="313.1" y2="432.8" stroke="#6a6a6a" stroke-width="0.9" />
<line x1="315.9" y1="432" x2="315.9" y2="432.8" stroke="#3a3a3a" stroke-width="0.9" />
<line x1="276.3" y1="432.8" x2="313.28000000000003" y2="432.8" stroke="#777" stroke-width="0.5" />
<rect x="275.95" y="403.54999999999995" width="62.000000000000014" height="29.600000000000033" fill="none" stroke="#e02424" stroke-width="1.3" />
<text x="327.5" y="421.6" font-size="11.6" text-anchor="end" fill="#dd2222" font-weight="bold" >6.6</text>
<line x1="281.3" y1="460.9" x2="281.3" y2="468.5" stroke="#3a3a3a" stroke-width="0.9" />
<line x1="283.9" y1="452.8" x2="283.9" y2="468.5" stroke="#6a6a6a" stroke-width="0.9" />
<line x1="286.7" y1="450" x2="286.7" y2="468.5" stroke="#3a3a3a" stroke-width="0.9" />
<line x1="289.4" y1="451.6" x2="289.4" y2="468.5" stroke="#6a6a6a" stroke-width="0.9" />
<line x1="292" y1="454.9" x2="292" y2="468.5" stroke="#3a3a3a" stroke-width="0.9" />
<line x1="294.8" y1="457.6" x2="294.8" y2="468.5" stroke="#6a6a6a" stroke-width="0.9" />
<line x1="297.5" y1="460.9" x2="297.5" y2="468.5" stroke="#3a3a3a" stroke-width="0.9" />
<line x1="300.1" y1="462.5" x2="300.1" y2="468.5" stroke="#6a6a6a" stroke-width="0.9" />
<line x1="302.9" y1="464.6" x2="302.9" y2="468.5" stroke="#3a3a3a" stroke-width="0.9" />
<line x1="305.3" y1="466.6" x2="305.3" y2="468.5" stroke="#6a6a6a" stroke-width="0.9" />
<line x1="308.1" y1="467.8" x2="308.1" y2="468.5" stroke="#3a3a3a" stroke-width="0.9" />
<line x1="276.3" y1="468.5" x2="313.28000000000003" y2="468.5" stroke="#777" stroke-width="0.5" />
<rect x="275.95" y="439.65" width="62.000000000000014" height="29.2" fill="none" stroke="#e02424" stroke-width="1.3" />
<text x="327.5" y="459.0" font-size="11.6" text-anchor="end" fill="#dd2222" font-weight="bold" >4.8</text>
<line x1="278.6" y1="480.4" x2="278.6" y2="507.4" stroke="#3a3a3a" stroke-width="0.9" />
<line x1="281.3" y1="490.1" x2="281.3" y2="507.4" stroke="#6a6a6a" stroke-width="0.9" />
<line x1="283.9" y1="490.1" x2="283.9" y2="507.4" stroke="#3a3a3a" stroke-width="0.9" />
<line x1="287" y1="493.8" x2="287" y2="507.4" stroke="#6a6a6a" stroke-width="0.9" />
<line x1="289.4" y1="499" x2="289.4" y2="507.4" stroke="#3a3a3a" stroke-width="0.9" />
<line x1="292" y1="502" x2="292" y2="507.4" stroke="#6a6a6a" stroke-width="0.9" />
<line x1="294.8" y1="504.7" x2="294.8" y2="507.4" stroke="#3a3a3a" stroke-width="0.9" />
<line x1="297.5" y1="506.3" x2="297.5" y2="507.4" stroke="#6a6a6a" stroke-width="0.9" />
<line x1="300.1" y1="507.1" x2="300.1" y2="507.4" stroke="#3a3a3a" stroke-width="0.9" />
<line x1="275.8" y1="507.4" x2="312.78000000000003" y2="507.4" stroke="#777" stroke-width="0.5" />
<rect x="275.45" y="479.34999999999997" width="62.000000000000014" height="28.399999999999988" fill="none" stroke="#e02424" stroke-width="1.3" />
<text x="327.5" y="500.2" font-size="11.6" text-anchor="end" fill="#dd2222" font-weight="bold" >2.5</text>
<line x1="350.1" y1="431.2" x2="350.1" y2="432.3" stroke="#3a3a3a" stroke-width="0.9" />
<line x1="352.7" y1="427.3" x2="352.7" y2="432.3" stroke="#6a6a6a" stroke-width="0.9" />
<line x1="355.5" y1="422.7" x2="355.5" y2="432.3" stroke="#3a3a3a" stroke-width="0.9" />
<line x1="358.2" y1="420.8" x2="358.2" y2="432.3" stroke="#6a6a6a" stroke-width="0.9" />
<line x1="360.8" y1="418.7" x2="360.8" y2="432.3" stroke="#3a3a3a" stroke-width="0.9" />
<line x1="363.6" y1="418.2" x2="363.6" y2="432.3" stroke="#6a6a6a" stroke-width="0.9" />
<line x1="366.4" y1="419.2" x2="366.4" y2="432.3" stroke="#3a3a3a" stroke-width="0.9" />
<line x1="369" y1="420.8" x2="369" y2="432.3" stroke="#6a6a6a" stroke-width="0.9" />
<line x1="371.7" y1="425.2" x2="371.7" y2="432.3" stroke="#3a3a3a" stroke-width="0.9" />
<line x1="374.5" y1="426.3" x2="374.5" y2="432.3" stroke="#6a6a6a" stroke-width="0.9" />
<line x1="377.1" y1="429.2" x2="377.1" y2="432.3" stroke="#3a3a3a" stroke-width="0.9" />
<line x1="379.8" y1="431.2" x2="379.8" y2="432.3" stroke="#6a6a6a" stroke-width="0.9" />
<line x1="382.6" y1="432" x2="382.6" y2="432.3" stroke="#3a3a3a" stroke-width="0.9" />
<line x1="344.3" y1="432.3" x2="381.28000000000003" y2="432.3" stroke="#777" stroke-width="0.5" />
<rect x="343.95" y="403.54999999999995" width="62.000000000000014" height="29.100000000000033" fill="none" stroke="#3cbc3c" stroke-width="1.3" />
<text x="396.3" y="421.6" font-size="11.6" text-anchor="end" fill="#33b033" font-weight="bold" >6.0</text>
<line x1="353" y1="468.2" x2="353" y2="469.6" stroke="#3a3a3a" stroke-width="0.9" />
<line x1="355.8" y1="462.5" x2="355.8" y2="469.6" stroke="#6a6a6a" stroke-width="0.9" />
<line x1="358.4" y1="458.1" x2="358.4" y2="469.6" stroke="#3a3a3a" stroke-width="0.9" />
<line x1="361.2" y1="455.2" x2="361.2" y2="469.6" stroke="#6a6a6a" stroke-width="0.9" />
<line x1="363.9" y1="455.5" x2="363.9" y2="469.6" stroke="#3a3a3a" stroke-width="0.9" />
<line x1="366.5" y1="456.8" x2="366.5" y2="469.6" stroke="#6a6a6a" stroke-width="0.9" />
<line x1="369.3" y1="458.1" x2="369.3" y2="469.6" stroke="#3a3a3a" stroke-width="0.9" />
<line x1="372" y1="460.9" x2="372" y2="469.6" stroke="#6a6a6a" stroke-width="0.9" />
<line x1="375" y1="462.5" x2="375" y2="469.6" stroke="#3a3a3a" stroke-width="0.9" />
<line x1="377.4" y1="464.1" x2="377.4" y2="469.6" stroke="#6a6a6a" stroke-width="0.9" />
<line x1="380.2" y1="466.6" x2="380.2" y2="469.6" stroke="#3a3a3a" stroke-width="0.9" />
<line x1="383.1" y1="468.2" x2="383.1" y2="469.6" stroke="#6a6a6a" stroke-width="0.9" />
<line x1="385.5" y1="469.3" x2="385.5" y2="469.6" stroke="#3a3a3a" stroke-width="0.9" />
<line x1="345.4" y1="469.6" x2="382.44" y2="469.6" stroke="#777" stroke-width="0.5" />
<rect x="345.04999999999995" y="440.95" width="62.10000000000004" height="29.00000000000001" fill="none" stroke="#3cbc3c" stroke-width="1.3" />
<text x="396.3" y="459.0" font-size="11.6" text-anchor="end" fill="#33b033" font-weight="bold" >6.2</text>
<line x1="349.8" y1="503.9" x2="349.8" y2="507.4" stroke="#3a3a3a" stroke-width="0.9" />
<line x1="352.6" y1="497.4" x2="352.6" y2="507.4" stroke="#6a6a6a" stroke-width="0.9" />
<line x1="355.2" y1="490.6" x2="355.2" y2="507.4" stroke="#3a3a3a" stroke-width="0.9" />
<line x1="357.9" y1="491.2" x2="357.9" y2="507.4" stroke="#6a6a6a" stroke-width="0.9" />
<line x1="360.7" y1="492.5" x2="360.7" y2="507.4" stroke="#3a3a3a" stroke-width="0.9" />
<line x1="363.6" y1="495.8" x2="363.6" y2="507.4" stroke="#6a6a6a" stroke-width="0.9" />
<line x1="366.4" y1="497.4" x2="366.4" y2="507.4" stroke="#3a3a3a" stroke-width="0.9" />
<line x1="369" y1="501.5" x2="369" y2="507.4" stroke="#6a6a6a" stroke-width="0.9" />
<line x1="371.7" y1="503.9" x2="371.7" y2="507.4" stroke="#3a3a3a" stroke-width="0.9" />
<line x1="374.6" y1="504.2" x2="374.6" y2="507.4" stroke="#6a6a6a" stroke-width="0.9" />
<line x1="377.4" y1="507" x2="377.4" y2="507.4" stroke="#3a3a3a" stroke-width="0.9" />
<line x1="345.4" y1="507.4" x2="382.44" y2="507.4" stroke="#777" stroke-width="0.5" />
<rect x="345.04999999999995" y="478.54999999999995" width="62.10000000000004" height="29.2" fill="none" stroke="#3cbc3c" stroke-width="1.3" />
<text x="396.3" y="500.2" font-size="11.6" text-anchor="end" fill="#33b033" font-weight="bold" >5.8</text>
<text x="127.6" y="415.6" font-size="7.2" text-anchor="start" fill="#111" font-weight="bold" >20</text>
<text x="127.6" y="424.8" font-size="7.2" text-anchor="start" fill="#111" font-weight="bold" >10</text>
<text x="127.6" y="434.3" font-size="7.2" text-anchor="start" fill="#111" font-weight="bold" >0</text>
<text x="127.6" y="454.1" font-size="7.2" text-anchor="start" fill="#111" font-weight="bold" >8</text>
<text x="127.6" y="463.8" font-size="7.2" text-anchor="start" fill="#111" font-weight="bold" >1</text>
<text x="127.6" y="473.0" font-size="7.2" text-anchor="start" fill="#111" font-weight="bold" >0</text>
<text x="127.6" y="483.2" font-size="7.2" text-anchor="start" fill="#111" font-weight="bold" >0</text>
<text x="127.6" y="491.5" font-size="7.2" text-anchor="start" fill="#111" font-weight="bold" >8</text>
<text x="127.6" y="500.3" font-size="7.2" text-anchor="start" fill="#111" font-weight="bold" >1</text>
<text x="127.6" y="509.7" font-size="7.2" text-anchor="start" fill="#111" font-weight="bold" >0</text>
<text x="127.6" y="519.7" font-size="7.2" text-anchor="start" fill="#111" font-weight="bold" >0</text>
<line x1="119.9" y1="416.5" x2="119.9" y2="512.0" stroke="#000" stroke-width="1.3" />
<polygon points="117.0,417.8 119.9,411.6 122.8,417.8" fill="#000"/>
<text x="0" y="0" font-size="11.8" font-weight="bold" fill="#111" text-anchor="middle" transform="translate(113.6,459.3) rotate(-90)">% of NK cells</text>
<text x="138.0" y="519.3" font-size="8.2" text-anchor="middle" fill="#111" font-weight="bold" >0</text>
<text x="167.1" y="519.3" font-size="8.2" text-anchor="middle" fill="#111" font-weight="bold" >10</text>
<text x="195.1" y="519.3" font-size="8.2" text-anchor="middle" fill="#111" font-weight="bold" >20</text>
<text x="206.6" y="519.3" font-size="8.2" text-anchor="middle" fill="#111" font-weight="bold" >0</text>
<text x="236.0" y="519.3" font-size="8.2" text-anchor="middle" fill="#111" font-weight="bold" >10</text>
<text x="262.9" y="519.3" font-size="8.2" text-anchor="middle" fill="#111" font-weight="bold" >20</text>
<text x="279.2" y="519.3" font-size="8.2" text-anchor="middle" fill="#111" font-weight="bold" >0</text>
<text x="307.6" y="519.3" font-size="8.2" text-anchor="middle" fill="#111" font-weight="bold" >10</text>
<text x="335.0" y="519.3" font-size="8.2" text-anchor="middle" fill="#111" font-weight="bold" >20</text>
<text x="349.0" y="519.3" font-size="8.2" text-anchor="middle" fill="#111" font-weight="bold" >0</text>
<text x="379.0" y="519.3" font-size="8.2" text-anchor="middle" fill="#111" font-weight="bold" >10</text>
<text x="406.2" y="519.3" font-size="8.2" text-anchor="middle" fill="#111" font-weight="bold" >20</text>
<line x1="129.0" y1="526.4" x2="400.0" y2="526.4" stroke="#000" stroke-width="1.5" />
<polygon points="399.2,523.7 406.4,526.4 399.2,529.1" fill="#000"/>
<text x="224.3" y="538.6" font-size="11.4" text-anchor="start" fill="#111" font-weight="bold" >Number of GrzB<tspan font-size="7" dy="-4">+</tspan><tspan dy="4"> spots</tspan></text>
<text x="415.7" y="427.8" font-size="11.3" text-anchor="start" fill="#111" font-weight="bold" >C57BL/6</text>
<text x="415.7" y="460.5" font-size="11.3" text-anchor="start" fill="#111" font-weight="bold" >IK<tspan font-size="7.57" dy="-3.16">+/+</tspan><tspan dy="3.16"> Rag</tspan><tspan font-size="7.57" dy="-3.16">-/-</tspan></text>
<text x="415.7" y="497.4" font-size="11.3" text-anchor="start" fill="#111" font-weight="bold" >IK<tspan font-size="7.57" dy="-3.16">L/L</tspan><tspan dy="3.16"> Rag</tspan><tspan font-size="7.57" dy="-3.16">-/-</tspan></text>
<text x="5.8" y="568.8" font-size="17.5" text-anchor="start" fill="#000" font-weight="bold" >E</text>
<line x1="68.9" y1="571.5" x2="68.9" y2="687.8" stroke="#000" stroke-width="2.0" />
<line x1="65.2" y1="686.8" x2="68.9" y2="686.8" stroke="#000" stroke-width="1.5" />
<text x="63.9" y="690.9" font-size="10" text-anchor="end" fill="#111" font-weight="bold" >0</text>
<line x1="65.2" y1="658.0999999999999" x2="68.9" y2="658.0999999999999" stroke="#000" stroke-width="1.5" />
<text x="63.9" y="662.1999999999999" font-size="10" text-anchor="end" fill="#111" font-weight="bold" >25</text>
<line x1="65.2" y1="629.4" x2="68.9" y2="629.4" stroke="#000" stroke-width="1.5" />
<text x="63.9" y="633.5" font-size="10" text-anchor="end" fill="#111" font-weight="bold" >50</text>
<line x1="65.2" y1="600.6999999999999" x2="68.9" y2="600.6999999999999" stroke="#000" stroke-width="1.5" />
<text x="63.9" y="604.8" font-size="10" text-anchor="end" fill="#111" font-weight="bold" >75</text>
<line x1="65.2" y1="572.0" x2="68.9" y2="572.0" stroke="#000" stroke-width="1.5" />
<text x="63.9" y="576.1" font-size="10" text-anchor="end" fill="#111" font-weight="bold" >100</text>
<line x1="68" y1="686.8" x2="312.8" y2="686.8" stroke="#000" stroke-width="2.0" />
<line x1="109.8" y1="686.8" x2="109.8" y2="690.4" stroke="#000" stroke-width="1.3" />
<line x1="190.5" y1="686.8" x2="190.5" y2="690.4" stroke="#000" stroke-width="1.3" />
<line x1="272.0" y1="686.8" x2="272.0" y2="690.4" stroke="#000" stroke-width="1.3" />
<line x1="80.7" y1="655.3" x2="80.7" y2="643.3" stroke="#111" stroke-width="1.4" />
<line x1="77.9" y1="643.3" x2="83.5" y2="643.3" stroke="#111" stroke-width="1.7999999999999998" />
<rect x="76.30000000000001" y="656.1999999999999" width="8.799999999999999" height="30.6" fill="#a8a8a8" stroke="#111" stroke-width="1.8" />
<line x1="95.6" y1="611.3" x2="95.6" y2="596.3" stroke="#111" stroke-width="1.4" />
<line x1="92.8" y1="596.3" x2="98.39999999999999" y2="596.3" stroke="#111" stroke-width="1.7999999999999998" />
<rect x="91.2" y="612.1999999999999" width="8.799999999999999" height="74.6" fill="#5a5aee" stroke="#111" stroke-width="1.8" />
<line x1="109.89999999999999" y1="600.6" x2="109.89999999999999" y2="593.8" stroke="#111" stroke-width="1.4" />
<line x1="107.1" y1="593.8" x2="112.69999999999999" y2="593.8" stroke="#111" stroke-width="1.7999999999999998" />
<rect x="105.5" y="601.5" width="8.799999999999999" height="85.29999999999993" fill="#ff1414" stroke="#111" stroke-width="1.8" />
<line x1="124.3" y1="602.1" x2="124.3" y2="593.5" stroke="#111" stroke-width="1.4" />
<line x1="121.5" y1="593.5" x2="127.1" y2="593.5" stroke="#111" stroke-width="1.7999999999999998" />
<rect x="119.9" y="603.0" width="8.799999999999999" height="83.79999999999993" fill="#14c814" stroke="#111" stroke-width="1.8" />
<line x1="162.3" y1="643.4" x2="162.3" y2="632.4" stroke="#111" stroke-width="1.4" />
<line x1="159.5" y1="632.4" x2="165.10000000000002" y2="632.4" stroke="#111" stroke-width="1.7999999999999998" />
<rect x="157.9" y="644.3" width="8.799999999999999" height="42.49999999999998" fill="#a8a8a8" stroke="#111" stroke-width="1.8" />
<line x1="176.60000000000002" y1="601.9" x2="176.60000000000002" y2="591.6" stroke="#111" stroke-width="1.4" />
<line x1="173.8" y1="591.6" x2="179.40000000000003" y2="591.6" stroke="#111" stroke-width="1.7999999999999998" />
<rect x="172.20000000000002" y="602.8" width="8.799999999999999" height="83.99999999999997" fill="#5a5aee" stroke="#111" stroke-width="1.8" />
<line x1="190.9" y1="599.6" x2="190.9" y2="589.1" stroke="#111" stroke-width="1.4" />
<line x1="188.1" y1="589.1" x2="193.70000000000002" y2="589.1" stroke="#111" stroke-width="1.7999999999999998" />
<rect x="186.5" y="600.5" width="8.799999999999999" height="86.29999999999993" fill="#ff1414" stroke="#111" stroke-width="1.8" />
<line x1="205.5" y1="593.75" x2="205.5" y2="584.6" stroke="#111" stroke-width="1.4" />
<line x1="202.7" y1="584.6" x2="208.3" y2="584.6" stroke="#111" stroke-width="1.7999999999999998" />
<rect x="201.1" y="594.65" width="8.799999999999999" height="92.14999999999995" fill="#14c814" stroke="#111" stroke-width="1.8" />
<line x1="243.5" y1="683.1" x2="243.5" y2="681.2" stroke="#111" stroke-width="1.4" />
<line x1="240.7" y1="681.2" x2="246.3" y2="681.2" stroke="#111" stroke-width="1.7999999999999998" />
<rect x="239.1" y="684.0" width="8.799999999999999" height="2.799999999999932" fill="#a8a8a8" stroke="#111" stroke-width="1.8" />
<line x1="258.1" y1="676.2" x2="258.1" y2="666.6" stroke="#111" stroke-width="1.4" />
<line x1="255.3" y1="666.6" x2="260.90000000000003" y2="666.6" stroke="#111" stroke-width="1.7999999999999998" />
<rect x="253.70000000000002" y="677.1" width="8.799999999999999" height="9.699999999999909" fill="#5a5aee" stroke="#111" stroke-width="1.8" />
<line x1="272.40000000000003" y1="676.2" x2="272.40000000000003" y2="671.2" stroke="#111" stroke-width="1.4" />
<line x1="269.6" y1="671.2" x2="275.20000000000005" y2="671.2" stroke="#111" stroke-width="1.7999999999999998" />
<rect x="268.0" y="677.1" width="8.799999999999999" height="9.699999999999909" fill="#ff1414" stroke="#111" stroke-width="1.8" />
<line x1="286.7" y1="654.3" x2="286.7" y2="641.1" stroke="#111" stroke-width="1.4" />
<line x1="283.9" y1="641.1" x2="289.5" y2="641.1" stroke="#111" stroke-width="1.7999999999999998" />
<rect x="282.29999999999995" y="655.1999999999999" width="8.799999999999999" height="31.6" fill="#14c814" stroke="#111" stroke-width="1.8" />
<line x1="301.0" y1="646.9" x2="301.0" y2="636.9" stroke="#111" stroke-width="1.4" />
<line x1="298.2" y1="636.9" x2="303.8" y2="636.9" stroke="#111" stroke-width="1.7999999999999998" />
<rect x="296.59999999999997" y="647.8" width="8.799999999999999" height="38.99999999999998" fill="url(#chk)" stroke="#111" stroke-width="1.8" />
<rect x="75.3" y="561.9499999999999" width="53.60000000000001" height="2.7" fill="#111" stroke="none" stroke-width="0" />
<text x="97.0" y="563.48" font-size="13" text-anchor="middle" fill="#111" font-weight="bold" stroke="#111" stroke-width="0.35">*</text>
<rect x="75.3" y="573.9499999999999" width="34.5" height="2.7" fill="#111" stroke="none" stroke-width="0" />
<text x="94.5" y="575.78" font-size="13" text-anchor="middle" fill="#111" font-weight="bold" stroke="#111" stroke-width="0.35">*</text>
<rect x="156.0" y="562.4499999999999" width="54.0" height="2.7" fill="#111" stroke="none" stroke-width="0" />
<text x="177.8" y="563.0799999999999" font-size="13" text-anchor="middle" fill="#111" font-weight="bold" stroke="#111" stroke-width="0.35">*</text>
<rect x="156.0" y="574.05" width="34.5" height="2.7" fill="#111" stroke="none" stroke-width="0" />
<text x="176.4" y="575.78" font-size="13" text-anchor="middle" fill="#111" font-weight="bold" stroke="#111" stroke-width="0.35">*</text>
<rect x="155.6" y="583.85" width="20.700000000000017" height="2.7" fill="#111" stroke="none" stroke-width="0" />
<text x="167.6" y="584.98" font-size="13" text-anchor="middle" fill="#111" font-weight="bold" stroke="#111" stroke-width="0.35">*</text>
<rect x="237.3" y="603.4499999999999" width="60.69999999999999" height="2.7" fill="#111" stroke="none" stroke-width="0" />
<text x="269.0" y="604.5799999999999" font-size="13" text-anchor="middle" fill="#111" font-weight="bold" stroke="#111" stroke-width="0.35">*</text>
<rect x="237.3" y="615.75" width="47.599999999999966" height="2.7" fill="#111" stroke="none" stroke-width="0" />
<text x="263.0" y="617.28" font-size="13" text-anchor="middle" fill="#111" font-weight="bold" stroke="#111" stroke-width="0.35">*</text>
<text x="0" y="0" font-size="11" font-weight="bold" fill="#111" text-anchor="middle" transform="translate(44.3,629.2) rotate(-90)">% specific lysis</text>
<text x="90.4" y="701.6" font-size="11.3" text-anchor="start" fill="#111" font-weight="bold" >C57BL/6</text>
<text x="168.3" y="701.6" font-size="11.3" text-anchor="start" fill="#111" font-weight="bold" >IK<tspan font-size="7.57" dy="-3.16">+/+</tspan><tspan dy="3.16"> Rag</tspan><tspan font-size="7.57" dy="-3.16">-/-</tspan></text>
<text x="249.2" y="701.6" font-size="11.3" text-anchor="start" fill="#111" font-weight="bold" >IK<tspan font-size="7.57" dy="-3.16">L/L</tspan><tspan dy="3.16"> Rag</tspan><tspan font-size="7.57" dy="-3.16">-/-</tspan></text>
<rect x="314.9" y="568.4" width="14.7" height="4.9" fill="#a8a8a8" stroke="#111" stroke-width="2.2" />
<text x="333.5" y="573.6999999999999" font-size="9.9" text-anchor="start" fill="#222" font-weight="bold" >PBS</text>
<rect x="314.9" y="580.4" width="14.7" height="4.9" fill="#5a5aee" stroke="#111" stroke-width="2.2" />
<text x="333.5" y="585.6999999999999" font-size="9.9" text-anchor="start" fill="#222" font-weight="bold" >CpG</text>
<rect x="314.9" y="592.6" width="14.7" height="4.9" fill="#ff1414" stroke="#111" stroke-width="2.2" />
<text x="333.5" y="597.9" font-size="9.9" text-anchor="start" fill="#222" font-weight="bold" >CpG-Dotap</text>
<rect x="314.9" y="605.3000000000001" width="14.7" height="4.9" fill="#14c814" stroke="#111" stroke-width="2.2" />
<text x="333.5" y="610.6" font-size="9.9" text-anchor="start" fill="#222" font-weight="bold" >PIC</text>
<rect x="314.9" y="619.2" width="14.7" height="4.9" fill="url(#chk)" stroke="#111" stroke-width="2.2" />
<text x="333.5" y="624.5" font-size="9.9" text-anchor="start" fill="#222" font-weight="bold" >CpG-Dotap</text>
<text x="334.6" y="635.8" font-size="9.9" text-anchor="start" fill="#222" font-weight="bold" >+ pDC</text>
</g></svg>
</body></html>
